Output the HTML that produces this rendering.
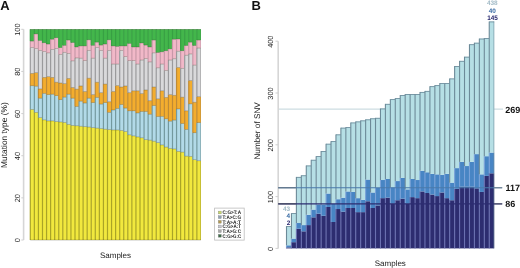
<!DOCTYPE html>
<html><head><meta charset="utf-8"><title>Mutation spectra</title>
<style>html,body{margin:0;padding:0;background:#fff;}svg{display:block;filter:blur(0.45px);}text{font-family:"Liberation Sans",sans-serif;text-rendering:geometricPrecision;}</style>
</head><body>
<svg width="520" height="268" viewBox="0 0 520 268">
<rect x="0" y="0" width="520" height="268" fill="#ffffff"/>
<text x="0.3" y="10.4" font-size="13" font-weight="bold" fill="#111">A</text>
<text x="251.6" y="10.3" font-size="13" font-weight="bold" fill="#111">B</text>
<g>
<rect x="30.3" y="109.37" width="4.06" height="130.63" fill="#f1e83e"/>
<rect x="29.7" y="109.37" width="1.2" height="130.63" fill="#aaa426"/>
<rect x="30.3" y="85.77" width="4.06" height="23.6" fill="#b2dae8"/>
<rect x="29.7" y="85.77" width="1.2" height="23.6" fill="#73999f"/>
<rect x="30.3" y="73.34" width="4.06" height="12.43" fill="#f3ad2e"/>
<rect x="29.7" y="73.34" width="1.2" height="12.43" fill="#bf8a35"/>
<rect x="30.3" y="47.42" width="4.06" height="25.92" fill="#d9d9db"/>
<rect x="29.7" y="47.42" width="1.2" height="25.92" fill="#9a9a9c"/>
<rect x="30.3" y="41.1" width="4.06" height="6.32" fill="#f1b8c8"/>
<rect x="29.7" y="41.1" width="1.2" height="6.32" fill="#c898a8"/>
<rect x="30.3" y="29.3" width="4.06" height="11.8" fill="#43b64b"/>
<rect x="29.7" y="29.3" width="1.2" height="11.8" fill="#37a043"/>
<rect x="30.3" y="109.07" width="4.06" height="0.6" fill="rgba(50,50,30,0.45)"/>
<rect x="30.3" y="85.47" width="4.06" height="0.6" fill="rgba(50,50,30,0.45)"/>
<rect x="30.3" y="73.04" width="4.06" height="0.6" fill="rgba(50,50,30,0.45)"/>
<rect x="30.3" y="47.12" width="4.06" height="0.6" fill="rgba(50,50,30,0.45)"/>
<rect x="30.3" y="40.8" width="4.06" height="0.6" fill="rgba(50,50,30,0.45)"/>
<rect x="30.3" y="29" width="4.06" height="0.6" fill="rgba(50,50,30,0.45)"/>
<rect x="34.36" y="112.32" width="4.06" height="127.68" fill="#f1e83e"/>
<rect x="33.76" y="112.32" width="1.2" height="127.68" fill="#aaa426"/>
<rect x="34.36" y="86.19" width="4.06" height="26.13" fill="#b2dae8"/>
<rect x="33.76" y="86.19" width="1.2" height="26.13" fill="#73999f"/>
<rect x="34.36" y="72.7" width="4.06" height="13.48" fill="#f3ad2e"/>
<rect x="33.76" y="72.7" width="1.2" height="13.48" fill="#bf8a35"/>
<rect x="34.36" y="48.47" width="4.06" height="24.23" fill="#d9d9db"/>
<rect x="33.76" y="48.47" width="1.2" height="24.23" fill="#9a9a9c"/>
<rect x="34.36" y="33.94" width="4.06" height="14.54" fill="#f1b8c8"/>
<rect x="33.76" y="33.94" width="1.2" height="14.54" fill="#c898a8"/>
<rect x="34.36" y="29.3" width="4.06" height="4.64" fill="#43b64b"/>
<rect x="33.76" y="29.3" width="1.2" height="4.64" fill="#37a043"/>
<rect x="34.36" y="112.02" width="4.06" height="0.6" fill="rgba(50,50,30,0.45)"/>
<rect x="34.36" y="85.89" width="4.06" height="0.6" fill="rgba(50,50,30,0.45)"/>
<rect x="34.36" y="72.4" width="4.06" height="0.6" fill="rgba(50,50,30,0.45)"/>
<rect x="34.36" y="48.17" width="4.06" height="0.6" fill="rgba(50,50,30,0.45)"/>
<rect x="34.36" y="33.64" width="4.06" height="0.6" fill="rgba(50,50,30,0.45)"/>
<rect x="34.36" y="29" width="4.06" height="0.6" fill="rgba(50,50,30,0.45)"/>
<rect x="38.42" y="117.58" width="4.06" height="122.42" fill="#f1e83e"/>
<rect x="37.82" y="117.58" width="1.2" height="122.42" fill="#aaa426"/>
<rect x="38.42" y="98.2" width="4.06" height="19.38" fill="#b2dae8"/>
<rect x="37.82" y="98.2" width="1.2" height="19.38" fill="#73999f"/>
<rect x="38.42" y="88.93" width="4.06" height="9.27" fill="#f3ad2e"/>
<rect x="37.82" y="88.93" width="1.2" height="9.27" fill="#bf8a35"/>
<rect x="38.42" y="50.37" width="4.06" height="38.56" fill="#d9d9db"/>
<rect x="37.82" y="50.37" width="1.2" height="38.56" fill="#9a9a9c"/>
<rect x="38.42" y="40.47" width="4.06" height="9.9" fill="#f1b8c8"/>
<rect x="37.82" y="40.47" width="1.2" height="9.9" fill="#c898a8"/>
<rect x="38.42" y="29.3" width="4.06" height="11.17" fill="#43b64b"/>
<rect x="37.82" y="29.3" width="1.2" height="11.17" fill="#37a043"/>
<rect x="38.42" y="117.28" width="4.06" height="0.6" fill="rgba(50,50,30,0.45)"/>
<rect x="38.42" y="97.9" width="4.06" height="0.6" fill="rgba(50,50,30,0.45)"/>
<rect x="38.42" y="88.63" width="4.06" height="0.6" fill="rgba(50,50,30,0.45)"/>
<rect x="38.42" y="50.07" width="4.06" height="0.6" fill="rgba(50,50,30,0.45)"/>
<rect x="38.42" y="40.17" width="4.06" height="0.6" fill="rgba(50,50,30,0.45)"/>
<rect x="38.42" y="29" width="4.06" height="0.6" fill="rgba(50,50,30,0.45)"/>
<rect x="42.49" y="119.9" width="4.06" height="120.1" fill="#f1e83e"/>
<rect x="41.89" y="119.9" width="1.2" height="120.1" fill="#aaa426"/>
<rect x="42.49" y="93.35" width="4.06" height="26.55" fill="#b2dae8"/>
<rect x="41.89" y="93.35" width="1.2" height="26.55" fill="#73999f"/>
<rect x="42.49" y="77.34" width="4.06" height="16.01" fill="#f3ad2e"/>
<rect x="41.89" y="77.34" width="1.2" height="16.01" fill="#bf8a35"/>
<rect x="42.49" y="51.42" width="4.06" height="25.92" fill="#d9d9db"/>
<rect x="41.89" y="51.42" width="1.2" height="25.92" fill="#9a9a9c"/>
<rect x="42.49" y="42.78" width="4.06" height="8.64" fill="#f1b8c8"/>
<rect x="41.89" y="42.78" width="1.2" height="8.64" fill="#c898a8"/>
<rect x="42.49" y="29.3" width="4.06" height="13.48" fill="#43b64b"/>
<rect x="41.89" y="29.3" width="1.2" height="13.48" fill="#37a043"/>
<rect x="42.49" y="119.6" width="4.06" height="0.6" fill="rgba(50,50,30,0.45)"/>
<rect x="42.49" y="93.05" width="4.06" height="0.6" fill="rgba(50,50,30,0.45)"/>
<rect x="42.49" y="77.04" width="4.06" height="0.6" fill="rgba(50,50,30,0.45)"/>
<rect x="42.49" y="51.12" width="4.06" height="0.6" fill="rgba(50,50,30,0.45)"/>
<rect x="42.49" y="42.48" width="4.06" height="0.6" fill="rgba(50,50,30,0.45)"/>
<rect x="42.49" y="29" width="4.06" height="0.6" fill="rgba(50,50,30,0.45)"/>
<rect x="46.55" y="120.95" width="4.06" height="119.05" fill="#f1e83e"/>
<rect x="45.95" y="120.95" width="1.2" height="119.05" fill="#aaa426"/>
<rect x="46.55" y="94.62" width="4.06" height="26.34" fill="#b2dae8"/>
<rect x="45.95" y="94.62" width="1.2" height="26.34" fill="#73999f"/>
<rect x="46.55" y="76.71" width="4.06" height="17.91" fill="#f3ad2e"/>
<rect x="45.95" y="76.71" width="1.2" height="17.91" fill="#bf8a35"/>
<rect x="46.55" y="52.9" width="4.06" height="23.81" fill="#d9d9db"/>
<rect x="45.95" y="52.9" width="1.2" height="23.81" fill="#9a9a9c"/>
<rect x="46.55" y="44.05" width="4.06" height="8.85" fill="#f1b8c8"/>
<rect x="45.95" y="44.05" width="1.2" height="8.85" fill="#c898a8"/>
<rect x="46.55" y="29.3" width="4.06" height="14.75" fill="#43b64b"/>
<rect x="45.95" y="29.3" width="1.2" height="14.75" fill="#37a043"/>
<rect x="46.55" y="120.65" width="4.06" height="0.6" fill="rgba(50,50,30,0.45)"/>
<rect x="46.55" y="94.32" width="4.06" height="0.6" fill="rgba(50,50,30,0.45)"/>
<rect x="46.55" y="76.41" width="4.06" height="0.6" fill="rgba(50,50,30,0.45)"/>
<rect x="46.55" y="52.6" width="4.06" height="0.6" fill="rgba(50,50,30,0.45)"/>
<rect x="46.55" y="43.75" width="4.06" height="0.6" fill="rgba(50,50,30,0.45)"/>
<rect x="46.55" y="29" width="4.06" height="0.6" fill="rgba(50,50,30,0.45)"/>
<rect x="50.61" y="120.95" width="4.06" height="119.05" fill="#f1e83e"/>
<rect x="50.01" y="120.95" width="1.2" height="119.05" fill="#aaa426"/>
<rect x="50.61" y="94.2" width="4.06" height="26.76" fill="#b2dae8"/>
<rect x="50.01" y="94.2" width="1.2" height="26.76" fill="#73999f"/>
<rect x="50.61" y="77.34" width="4.06" height="16.86" fill="#f3ad2e"/>
<rect x="50.01" y="77.34" width="1.2" height="16.86" fill="#bf8a35"/>
<rect x="50.61" y="49.32" width="4.06" height="28.02" fill="#d9d9db"/>
<rect x="50.01" y="49.32" width="1.2" height="28.02" fill="#9a9a9c"/>
<rect x="50.61" y="39.2" width="4.06" height="10.11" fill="#f1b8c8"/>
<rect x="50.01" y="39.2" width="1.2" height="10.11" fill="#c898a8"/>
<rect x="50.61" y="29.3" width="4.06" height="9.9" fill="#43b64b"/>
<rect x="50.01" y="29.3" width="1.2" height="9.9" fill="#37a043"/>
<rect x="50.61" y="120.65" width="4.06" height="0.6" fill="rgba(50,50,30,0.45)"/>
<rect x="50.61" y="93.9" width="4.06" height="0.6" fill="rgba(50,50,30,0.45)"/>
<rect x="50.61" y="77.04" width="4.06" height="0.6" fill="rgba(50,50,30,0.45)"/>
<rect x="50.61" y="49.02" width="4.06" height="0.6" fill="rgba(50,50,30,0.45)"/>
<rect x="50.61" y="38.9" width="4.06" height="0.6" fill="rgba(50,50,30,0.45)"/>
<rect x="50.61" y="29" width="4.06" height="0.6" fill="rgba(50,50,30,0.45)"/>
<rect x="54.67" y="121.59" width="4.06" height="118.41" fill="#f1e83e"/>
<rect x="54.07" y="121.59" width="1.2" height="118.41" fill="#aaa426"/>
<rect x="54.67" y="95.67" width="4.06" height="25.92" fill="#b2dae8"/>
<rect x="54.07" y="95.67" width="1.2" height="25.92" fill="#73999f"/>
<rect x="54.67" y="82.19" width="4.06" height="13.48" fill="#f3ad2e"/>
<rect x="54.07" y="82.19" width="1.2" height="13.48" fill="#bf8a35"/>
<rect x="54.67" y="48.47" width="4.06" height="33.71" fill="#d9d9db"/>
<rect x="54.07" y="48.47" width="1.2" height="33.71" fill="#9a9a9c"/>
<rect x="54.67" y="37.73" width="4.06" height="10.75" fill="#f1b8c8"/>
<rect x="54.07" y="37.73" width="1.2" height="10.75" fill="#c898a8"/>
<rect x="54.67" y="29.3" width="4.06" height="8.43" fill="#43b64b"/>
<rect x="54.07" y="29.3" width="1.2" height="8.43" fill="#37a043"/>
<rect x="54.67" y="121.29" width="4.06" height="0.6" fill="rgba(50,50,30,0.45)"/>
<rect x="54.67" y="95.37" width="4.06" height="0.6" fill="rgba(50,50,30,0.45)"/>
<rect x="54.67" y="81.89" width="4.06" height="0.6" fill="rgba(50,50,30,0.45)"/>
<rect x="54.67" y="48.17" width="4.06" height="0.6" fill="rgba(50,50,30,0.45)"/>
<rect x="54.67" y="37.43" width="4.06" height="0.6" fill="rgba(50,50,30,0.45)"/>
<rect x="54.67" y="29" width="4.06" height="0.6" fill="rgba(50,50,30,0.45)"/>
<rect x="58.74" y="122.01" width="4.06" height="117.99" fill="#f1e83e"/>
<rect x="58.14" y="122.01" width="1.2" height="117.99" fill="#aaa426"/>
<rect x="58.74" y="99.67" width="4.06" height="22.33" fill="#b2dae8"/>
<rect x="58.14" y="99.67" width="1.2" height="22.33" fill="#73999f"/>
<rect x="58.74" y="83.03" width="4.06" height="16.65" fill="#f3ad2e"/>
<rect x="58.14" y="83.03" width="1.2" height="16.65" fill="#bf8a35"/>
<rect x="58.74" y="54.37" width="4.06" height="28.66" fill="#d9d9db"/>
<rect x="58.14" y="54.37" width="1.2" height="28.66" fill="#9a9a9c"/>
<rect x="58.74" y="47.63" width="4.06" height="6.74" fill="#f1b8c8"/>
<rect x="58.14" y="47.63" width="1.2" height="6.74" fill="#c898a8"/>
<rect x="58.74" y="29.3" width="4.06" height="18.33" fill="#43b64b"/>
<rect x="58.14" y="29.3" width="1.2" height="18.33" fill="#37a043"/>
<rect x="58.74" y="121.71" width="4.06" height="0.6" fill="rgba(50,50,30,0.45)"/>
<rect x="58.74" y="99.37" width="4.06" height="0.6" fill="rgba(50,50,30,0.45)"/>
<rect x="58.74" y="82.73" width="4.06" height="0.6" fill="rgba(50,50,30,0.45)"/>
<rect x="58.74" y="54.07" width="4.06" height="0.6" fill="rgba(50,50,30,0.45)"/>
<rect x="58.74" y="47.33" width="4.06" height="0.6" fill="rgba(50,50,30,0.45)"/>
<rect x="58.74" y="29" width="4.06" height="0.6" fill="rgba(50,50,30,0.45)"/>
<rect x="62.8" y="122.43" width="4.06" height="117.57" fill="#f1e83e"/>
<rect x="62.2" y="122.43" width="1.2" height="117.57" fill="#aaa426"/>
<rect x="62.8" y="97.15" width="4.06" height="25.28" fill="#b2dae8"/>
<rect x="62.2" y="97.15" width="1.2" height="25.28" fill="#73999f"/>
<rect x="62.8" y="83.66" width="4.06" height="13.48" fill="#f3ad2e"/>
<rect x="62.2" y="83.66" width="1.2" height="13.48" fill="#bf8a35"/>
<rect x="62.8" y="52.27" width="4.06" height="31.39" fill="#d9d9db"/>
<rect x="62.2" y="52.27" width="1.2" height="31.39" fill="#9a9a9c"/>
<rect x="62.8" y="45.31" width="4.06" height="6.95" fill="#f1b8c8"/>
<rect x="62.2" y="45.31" width="1.2" height="6.95" fill="#c898a8"/>
<rect x="62.8" y="29.3" width="4.06" height="16.01" fill="#43b64b"/>
<rect x="62.2" y="29.3" width="1.2" height="16.01" fill="#37a043"/>
<rect x="62.8" y="122.13" width="4.06" height="0.6" fill="rgba(50,50,30,0.45)"/>
<rect x="62.8" y="96.85" width="4.06" height="0.6" fill="rgba(50,50,30,0.45)"/>
<rect x="62.8" y="83.36" width="4.06" height="0.6" fill="rgba(50,50,30,0.45)"/>
<rect x="62.8" y="51.97" width="4.06" height="0.6" fill="rgba(50,50,30,0.45)"/>
<rect x="62.8" y="45.01" width="4.06" height="0.6" fill="rgba(50,50,30,0.45)"/>
<rect x="62.8" y="29" width="4.06" height="0.6" fill="rgba(50,50,30,0.45)"/>
<rect x="66.86" y="124.33" width="4.06" height="115.67" fill="#f1e83e"/>
<rect x="66.26" y="124.33" width="1.2" height="115.67" fill="#aaa426"/>
<rect x="66.86" y="94.2" width="4.06" height="30.13" fill="#b2dae8"/>
<rect x="66.26" y="94.2" width="1.2" height="30.13" fill="#73999f"/>
<rect x="66.86" y="78.39" width="4.06" height="15.8" fill="#f3ad2e"/>
<rect x="66.26" y="78.39" width="1.2" height="15.8" fill="#bf8a35"/>
<rect x="66.86" y="53.32" width="4.06" height="25.07" fill="#d9d9db"/>
<rect x="66.26" y="53.32" width="1.2" height="25.07" fill="#9a9a9c"/>
<rect x="66.86" y="40.05" width="4.06" height="13.27" fill="#f1b8c8"/>
<rect x="66.26" y="40.05" width="1.2" height="13.27" fill="#c898a8"/>
<rect x="66.86" y="29.3" width="4.06" height="10.75" fill="#43b64b"/>
<rect x="66.26" y="29.3" width="1.2" height="10.75" fill="#37a043"/>
<rect x="66.86" y="124.03" width="4.06" height="0.6" fill="rgba(50,50,30,0.45)"/>
<rect x="66.86" y="93.9" width="4.06" height="0.6" fill="rgba(50,50,30,0.45)"/>
<rect x="66.86" y="78.09" width="4.06" height="0.6" fill="rgba(50,50,30,0.45)"/>
<rect x="66.86" y="53.02" width="4.06" height="0.6" fill="rgba(50,50,30,0.45)"/>
<rect x="66.86" y="39.75" width="4.06" height="0.6" fill="rgba(50,50,30,0.45)"/>
<rect x="66.86" y="29" width="4.06" height="0.6" fill="rgba(50,50,30,0.45)"/>
<rect x="70.92" y="125.38" width="4.06" height="114.62" fill="#f1e83e"/>
<rect x="70.33" y="125.38" width="1.2" height="114.62" fill="#aaa426"/>
<rect x="70.92" y="98.2" width="4.06" height="27.18" fill="#b2dae8"/>
<rect x="70.33" y="98.2" width="1.2" height="27.18" fill="#73999f"/>
<rect x="70.92" y="87.45" width="4.06" height="10.75" fill="#f3ad2e"/>
<rect x="70.33" y="87.45" width="1.2" height="10.75" fill="#bf8a35"/>
<rect x="70.92" y="60.91" width="4.06" height="26.55" fill="#d9d9db"/>
<rect x="70.33" y="60.91" width="1.2" height="26.55" fill="#9a9a9c"/>
<rect x="70.92" y="42.57" width="4.06" height="18.33" fill="#f1b8c8"/>
<rect x="70.33" y="42.57" width="1.2" height="18.33" fill="#c898a8"/>
<rect x="70.92" y="29.3" width="4.06" height="13.27" fill="#43b64b"/>
<rect x="70.33" y="29.3" width="1.2" height="13.27" fill="#37a043"/>
<rect x="70.92" y="125.08" width="4.06" height="0.6" fill="rgba(50,50,30,0.45)"/>
<rect x="70.92" y="97.9" width="4.06" height="0.6" fill="rgba(50,50,30,0.45)"/>
<rect x="70.92" y="87.15" width="4.06" height="0.6" fill="rgba(50,50,30,0.45)"/>
<rect x="70.92" y="60.61" width="4.06" height="0.6" fill="rgba(50,50,30,0.45)"/>
<rect x="70.92" y="42.27" width="4.06" height="0.6" fill="rgba(50,50,30,0.45)"/>
<rect x="70.92" y="29" width="4.06" height="0.6" fill="rgba(50,50,30,0.45)"/>
<rect x="74.99" y="125.8" width="4.06" height="114.2" fill="#f1e83e"/>
<rect x="74.39" y="125.8" width="1.2" height="114.2" fill="#aaa426"/>
<rect x="74.99" y="106.42" width="4.06" height="19.38" fill="#b2dae8"/>
<rect x="74.39" y="106.42" width="1.2" height="19.38" fill="#73999f"/>
<rect x="74.99" y="89.14" width="4.06" height="17.28" fill="#f3ad2e"/>
<rect x="74.39" y="89.14" width="1.2" height="17.28" fill="#bf8a35"/>
<rect x="74.99" y="57.96" width="4.06" height="31.18" fill="#d9d9db"/>
<rect x="74.39" y="57.96" width="1.2" height="31.18" fill="#9a9a9c"/>
<rect x="74.99" y="47" width="4.06" height="10.96" fill="#f1b8c8"/>
<rect x="74.39" y="47" width="1.2" height="10.96" fill="#c898a8"/>
<rect x="74.99" y="29.3" width="4.06" height="17.7" fill="#43b64b"/>
<rect x="74.39" y="29.3" width="1.2" height="17.7" fill="#37a043"/>
<rect x="74.99" y="125.5" width="4.06" height="0.6" fill="rgba(50,50,30,0.45)"/>
<rect x="74.99" y="106.12" width="4.06" height="0.6" fill="rgba(50,50,30,0.45)"/>
<rect x="74.99" y="88.84" width="4.06" height="0.6" fill="rgba(50,50,30,0.45)"/>
<rect x="74.99" y="57.66" width="4.06" height="0.6" fill="rgba(50,50,30,0.45)"/>
<rect x="74.99" y="46.7" width="4.06" height="0.6" fill="rgba(50,50,30,0.45)"/>
<rect x="74.99" y="29" width="4.06" height="0.6" fill="rgba(50,50,30,0.45)"/>
<rect x="79.05" y="126.22" width="4.06" height="113.78" fill="#f1e83e"/>
<rect x="78.45" y="126.22" width="1.2" height="113.78" fill="#aaa426"/>
<rect x="79.05" y="101.15" width="4.06" height="25.07" fill="#b2dae8"/>
<rect x="78.45" y="101.15" width="1.2" height="25.07" fill="#73999f"/>
<rect x="79.05" y="85.98" width="4.06" height="15.17" fill="#f3ad2e"/>
<rect x="78.45" y="85.98" width="1.2" height="15.17" fill="#bf8a35"/>
<rect x="79.05" y="58.17" width="4.06" height="27.81" fill="#d9d9db"/>
<rect x="78.45" y="58.17" width="1.2" height="27.81" fill="#9a9a9c"/>
<rect x="79.05" y="45.95" width="4.06" height="12.22" fill="#f1b8c8"/>
<rect x="78.45" y="45.95" width="1.2" height="12.22" fill="#c898a8"/>
<rect x="79.05" y="29.3" width="4.06" height="16.65" fill="#43b64b"/>
<rect x="78.45" y="29.3" width="1.2" height="16.65" fill="#37a043"/>
<rect x="79.05" y="125.92" width="4.06" height="0.6" fill="rgba(50,50,30,0.45)"/>
<rect x="79.05" y="100.85" width="4.06" height="0.6" fill="rgba(50,50,30,0.45)"/>
<rect x="79.05" y="85.68" width="4.06" height="0.6" fill="rgba(50,50,30,0.45)"/>
<rect x="79.05" y="57.87" width="4.06" height="0.6" fill="rgba(50,50,30,0.45)"/>
<rect x="79.05" y="45.65" width="4.06" height="0.6" fill="rgba(50,50,30,0.45)"/>
<rect x="79.05" y="29" width="4.06" height="0.6" fill="rgba(50,50,30,0.45)"/>
<rect x="83.11" y="126.64" width="4.06" height="113.36" fill="#f1e83e"/>
<rect x="82.51" y="126.64" width="1.2" height="113.36" fill="#aaa426"/>
<rect x="83.11" y="103.04" width="4.06" height="23.6" fill="#b2dae8"/>
<rect x="82.51" y="103.04" width="1.2" height="23.6" fill="#73999f"/>
<rect x="83.11" y="91.46" width="4.06" height="11.59" fill="#f3ad2e"/>
<rect x="82.51" y="91.46" width="1.2" height="11.59" fill="#bf8a35"/>
<rect x="83.11" y="60.69" width="4.06" height="30.76" fill="#d9d9db"/>
<rect x="82.51" y="60.69" width="1.2" height="30.76" fill="#9a9a9c"/>
<rect x="83.11" y="45.95" width="4.06" height="14.75" fill="#f1b8c8"/>
<rect x="82.51" y="45.95" width="1.2" height="14.75" fill="#c898a8"/>
<rect x="83.11" y="29.3" width="4.06" height="16.65" fill="#43b64b"/>
<rect x="82.51" y="29.3" width="1.2" height="16.65" fill="#37a043"/>
<rect x="83.11" y="126.34" width="4.06" height="0.6" fill="rgba(50,50,30,0.45)"/>
<rect x="83.11" y="102.74" width="4.06" height="0.6" fill="rgba(50,50,30,0.45)"/>
<rect x="83.11" y="91.16" width="4.06" height="0.6" fill="rgba(50,50,30,0.45)"/>
<rect x="83.11" y="60.39" width="4.06" height="0.6" fill="rgba(50,50,30,0.45)"/>
<rect x="83.11" y="45.65" width="4.06" height="0.6" fill="rgba(50,50,30,0.45)"/>
<rect x="83.11" y="29" width="4.06" height="0.6" fill="rgba(50,50,30,0.45)"/>
<rect x="87.17" y="127.06" width="4.06" height="112.94" fill="#f1e83e"/>
<rect x="86.58" y="127.06" width="1.2" height="112.94" fill="#aaa426"/>
<rect x="87.17" y="98.2" width="4.06" height="28.87" fill="#b2dae8"/>
<rect x="86.58" y="98.2" width="1.2" height="28.87" fill="#73999f"/>
<rect x="87.17" y="78.18" width="4.06" height="20.02" fill="#f3ad2e"/>
<rect x="86.58" y="78.18" width="1.2" height="20.02" fill="#bf8a35"/>
<rect x="87.17" y="50.37" width="4.06" height="27.81" fill="#d9d9db"/>
<rect x="86.58" y="50.37" width="1.2" height="27.81" fill="#9a9a9c"/>
<rect x="87.17" y="39.84" width="4.06" height="10.53" fill="#f1b8c8"/>
<rect x="86.58" y="39.84" width="1.2" height="10.53" fill="#c898a8"/>
<rect x="87.17" y="29.3" width="4.06" height="10.53" fill="#43b64b"/>
<rect x="86.58" y="29.3" width="1.2" height="10.53" fill="#37a043"/>
<rect x="87.17" y="126.76" width="4.06" height="0.6" fill="rgba(50,50,30,0.45)"/>
<rect x="87.17" y="97.9" width="4.06" height="0.6" fill="rgba(50,50,30,0.45)"/>
<rect x="87.17" y="77.88" width="4.06" height="0.6" fill="rgba(50,50,30,0.45)"/>
<rect x="87.17" y="50.07" width="4.06" height="0.6" fill="rgba(50,50,30,0.45)"/>
<rect x="87.17" y="39.54" width="4.06" height="0.6" fill="rgba(50,50,30,0.45)"/>
<rect x="87.17" y="29" width="4.06" height="0.6" fill="rgba(50,50,30,0.45)"/>
<rect x="91.24" y="127.7" width="4.06" height="112.3" fill="#f1e83e"/>
<rect x="90.64" y="127.7" width="1.2" height="112.3" fill="#aaa426"/>
<rect x="91.24" y="102.62" width="4.06" height="25.07" fill="#b2dae8"/>
<rect x="90.64" y="102.62" width="1.2" height="25.07" fill="#73999f"/>
<rect x="91.24" y="94.62" width="4.06" height="8.01" fill="#f3ad2e"/>
<rect x="90.64" y="94.62" width="1.2" height="8.01" fill="#bf8a35"/>
<rect x="91.24" y="58.17" width="4.06" height="36.45" fill="#d9d9db"/>
<rect x="90.64" y="58.17" width="1.2" height="36.45" fill="#9a9a9c"/>
<rect x="91.24" y="45.31" width="4.06" height="12.85" fill="#f1b8c8"/>
<rect x="90.64" y="45.31" width="1.2" height="12.85" fill="#c898a8"/>
<rect x="91.24" y="29.3" width="4.06" height="16.01" fill="#43b64b"/>
<rect x="90.64" y="29.3" width="1.2" height="16.01" fill="#37a043"/>
<rect x="91.24" y="127.4" width="4.06" height="0.6" fill="rgba(50,50,30,0.45)"/>
<rect x="91.24" y="102.32" width="4.06" height="0.6" fill="rgba(50,50,30,0.45)"/>
<rect x="91.24" y="94.32" width="4.06" height="0.6" fill="rgba(50,50,30,0.45)"/>
<rect x="91.24" y="57.87" width="4.06" height="0.6" fill="rgba(50,50,30,0.45)"/>
<rect x="91.24" y="45.01" width="4.06" height="0.6" fill="rgba(50,50,30,0.45)"/>
<rect x="91.24" y="29" width="4.06" height="0.6" fill="rgba(50,50,30,0.45)"/>
<rect x="95.3" y="128.12" width="4.06" height="111.88" fill="#f1e83e"/>
<rect x="94.7" y="128.12" width="1.2" height="111.88" fill="#aaa426"/>
<rect x="95.3" y="97.36" width="4.06" height="30.76" fill="#b2dae8"/>
<rect x="94.7" y="97.36" width="1.2" height="30.76" fill="#73999f"/>
<rect x="95.3" y="82.19" width="4.06" height="15.17" fill="#f3ad2e"/>
<rect x="94.7" y="82.19" width="1.2" height="15.17" fill="#bf8a35"/>
<rect x="95.3" y="47.42" width="4.06" height="34.77" fill="#d9d9db"/>
<rect x="94.7" y="47.42" width="1.2" height="34.77" fill="#9a9a9c"/>
<rect x="95.3" y="42.15" width="4.06" height="5.27" fill="#f1b8c8"/>
<rect x="94.7" y="42.15" width="1.2" height="5.27" fill="#c898a8"/>
<rect x="95.3" y="29.3" width="4.06" height="12.85" fill="#43b64b"/>
<rect x="94.7" y="29.3" width="1.2" height="12.85" fill="#37a043"/>
<rect x="95.3" y="127.82" width="4.06" height="0.6" fill="rgba(50,50,30,0.45)"/>
<rect x="95.3" y="97.06" width="4.06" height="0.6" fill="rgba(50,50,30,0.45)"/>
<rect x="95.3" y="81.89" width="4.06" height="0.6" fill="rgba(50,50,30,0.45)"/>
<rect x="95.3" y="47.12" width="4.06" height="0.6" fill="rgba(50,50,30,0.45)"/>
<rect x="95.3" y="41.85" width="4.06" height="0.6" fill="rgba(50,50,30,0.45)"/>
<rect x="95.3" y="29" width="4.06" height="0.6" fill="rgba(50,50,30,0.45)"/>
<rect x="99.36" y="128.54" width="4.06" height="111.46" fill="#f1e83e"/>
<rect x="98.76" y="128.54" width="1.2" height="111.46" fill="#aaa426"/>
<rect x="99.36" y="104.1" width="4.06" height="24.44" fill="#b2dae8"/>
<rect x="98.76" y="104.1" width="1.2" height="24.44" fill="#73999f"/>
<rect x="99.36" y="92.72" width="4.06" height="11.38" fill="#f3ad2e"/>
<rect x="98.76" y="92.72" width="1.2" height="11.38" fill="#bf8a35"/>
<rect x="99.36" y="50.37" width="4.06" height="42.35" fill="#d9d9db"/>
<rect x="98.76" y="50.37" width="1.2" height="42.35" fill="#9a9a9c"/>
<rect x="99.36" y="45.1" width="4.06" height="5.27" fill="#f1b8c8"/>
<rect x="98.76" y="45.1" width="1.2" height="5.27" fill="#c898a8"/>
<rect x="99.36" y="29.3" width="4.06" height="15.8" fill="#43b64b"/>
<rect x="98.76" y="29.3" width="1.2" height="15.8" fill="#37a043"/>
<rect x="99.36" y="128.24" width="4.06" height="0.6" fill="rgba(50,50,30,0.45)"/>
<rect x="99.36" y="103.8" width="4.06" height="0.6" fill="rgba(50,50,30,0.45)"/>
<rect x="99.36" y="92.42" width="4.06" height="0.6" fill="rgba(50,50,30,0.45)"/>
<rect x="99.36" y="50.07" width="4.06" height="0.6" fill="rgba(50,50,30,0.45)"/>
<rect x="99.36" y="44.8" width="4.06" height="0.6" fill="rgba(50,50,30,0.45)"/>
<rect x="99.36" y="29" width="4.06" height="0.6" fill="rgba(50,50,30,0.45)"/>
<rect x="103.42" y="129.17" width="4.06" height="110.83" fill="#f1e83e"/>
<rect x="102.83" y="129.17" width="1.2" height="110.83" fill="#aaa426"/>
<rect x="103.42" y="102.62" width="4.06" height="26.55" fill="#b2dae8"/>
<rect x="102.83" y="102.62" width="1.2" height="26.55" fill="#73999f"/>
<rect x="103.42" y="84.08" width="4.06" height="18.54" fill="#f3ad2e"/>
<rect x="102.83" y="84.08" width="1.2" height="18.54" fill="#bf8a35"/>
<rect x="103.42" y="58.17" width="4.06" height="25.92" fill="#d9d9db"/>
<rect x="102.83" y="58.17" width="1.2" height="25.92" fill="#9a9a9c"/>
<rect x="103.42" y="44.05" width="4.06" height="14.12" fill="#f1b8c8"/>
<rect x="102.83" y="44.05" width="1.2" height="14.12" fill="#c898a8"/>
<rect x="103.42" y="29.3" width="4.06" height="14.75" fill="#43b64b"/>
<rect x="102.83" y="29.3" width="1.2" height="14.75" fill="#37a043"/>
<rect x="103.42" y="128.87" width="4.06" height="0.6" fill="rgba(50,50,30,0.45)"/>
<rect x="103.42" y="102.32" width="4.06" height="0.6" fill="rgba(50,50,30,0.45)"/>
<rect x="103.42" y="83.78" width="4.06" height="0.6" fill="rgba(50,50,30,0.45)"/>
<rect x="103.42" y="57.87" width="4.06" height="0.6" fill="rgba(50,50,30,0.45)"/>
<rect x="103.42" y="43.75" width="4.06" height="0.6" fill="rgba(50,50,30,0.45)"/>
<rect x="103.42" y="29" width="4.06" height="0.6" fill="rgba(50,50,30,0.45)"/>
<rect x="107.49" y="129.59" width="4.06" height="110.41" fill="#f1e83e"/>
<rect x="106.89" y="129.59" width="1.2" height="110.41" fill="#aaa426"/>
<rect x="107.49" y="112.32" width="4.06" height="17.28" fill="#b2dae8"/>
<rect x="106.89" y="112.32" width="1.2" height="17.28" fill="#73999f"/>
<rect x="107.49" y="101.78" width="4.06" height="10.53" fill="#f3ad2e"/>
<rect x="106.89" y="101.78" width="1.2" height="10.53" fill="#bf8a35"/>
<rect x="107.49" y="50.37" width="4.06" height="51.41" fill="#d9d9db"/>
<rect x="106.89" y="50.37" width="1.2" height="51.41" fill="#9a9a9c"/>
<rect x="107.49" y="39.84" width="4.06" height="10.53" fill="#f1b8c8"/>
<rect x="106.89" y="39.84" width="1.2" height="10.53" fill="#c898a8"/>
<rect x="107.49" y="29.3" width="4.06" height="10.53" fill="#43b64b"/>
<rect x="106.89" y="29.3" width="1.2" height="10.53" fill="#37a043"/>
<rect x="107.49" y="129.29" width="4.06" height="0.6" fill="rgba(50,50,30,0.45)"/>
<rect x="107.49" y="112.02" width="4.06" height="0.6" fill="rgba(50,50,30,0.45)"/>
<rect x="107.49" y="101.48" width="4.06" height="0.6" fill="rgba(50,50,30,0.45)"/>
<rect x="107.49" y="50.07" width="4.06" height="0.6" fill="rgba(50,50,30,0.45)"/>
<rect x="107.49" y="39.54" width="4.06" height="0.6" fill="rgba(50,50,30,0.45)"/>
<rect x="107.49" y="29" width="4.06" height="0.6" fill="rgba(50,50,30,0.45)"/>
<rect x="111.55" y="130.01" width="4.06" height="109.99" fill="#f1e83e"/>
<rect x="110.95" y="130.01" width="1.2" height="109.99" fill="#aaa426"/>
<rect x="111.55" y="110" width="4.06" height="20.02" fill="#b2dae8"/>
<rect x="110.95" y="110" width="1.2" height="20.02" fill="#73999f"/>
<rect x="111.55" y="91.46" width="4.06" height="18.54" fill="#f3ad2e"/>
<rect x="110.95" y="91.46" width="1.2" height="18.54" fill="#bf8a35"/>
<rect x="111.55" y="64.07" width="4.06" height="27.39" fill="#d9d9db"/>
<rect x="110.95" y="64.07" width="1.2" height="27.39" fill="#9a9a9c"/>
<rect x="111.55" y="45.95" width="4.06" height="18.12" fill="#f1b8c8"/>
<rect x="110.95" y="45.95" width="1.2" height="18.12" fill="#c898a8"/>
<rect x="111.55" y="29.3" width="4.06" height="16.65" fill="#43b64b"/>
<rect x="110.95" y="29.3" width="1.2" height="16.65" fill="#37a043"/>
<rect x="111.55" y="129.71" width="4.06" height="0.6" fill="rgba(50,50,30,0.45)"/>
<rect x="111.55" y="109.7" width="4.06" height="0.6" fill="rgba(50,50,30,0.45)"/>
<rect x="111.55" y="91.16" width="4.06" height="0.6" fill="rgba(50,50,30,0.45)"/>
<rect x="111.55" y="63.77" width="4.06" height="0.6" fill="rgba(50,50,30,0.45)"/>
<rect x="111.55" y="45.65" width="4.06" height="0.6" fill="rgba(50,50,30,0.45)"/>
<rect x="111.55" y="29" width="4.06" height="0.6" fill="rgba(50,50,30,0.45)"/>
<rect x="115.61" y="130.01" width="4.06" height="109.99" fill="#f1e83e"/>
<rect x="115.01" y="130.01" width="1.2" height="109.99" fill="#aaa426"/>
<rect x="115.61" y="108.31" width="4.06" height="21.7" fill="#b2dae8"/>
<rect x="115.01" y="108.31" width="1.2" height="21.7" fill="#73999f"/>
<rect x="115.61" y="85.56" width="4.06" height="22.76" fill="#f3ad2e"/>
<rect x="115.01" y="85.56" width="1.2" height="22.76" fill="#bf8a35"/>
<rect x="115.61" y="64.07" width="4.06" height="21.49" fill="#d9d9db"/>
<rect x="115.01" y="64.07" width="1.2" height="21.49" fill="#9a9a9c"/>
<rect x="115.61" y="46.37" width="4.06" height="17.7" fill="#f1b8c8"/>
<rect x="115.01" y="46.37" width="1.2" height="17.7" fill="#c898a8"/>
<rect x="115.61" y="29.3" width="4.06" height="17.07" fill="#43b64b"/>
<rect x="115.01" y="29.3" width="1.2" height="17.07" fill="#37a043"/>
<rect x="115.61" y="129.71" width="4.06" height="0.6" fill="rgba(50,50,30,0.45)"/>
<rect x="115.61" y="108.01" width="4.06" height="0.6" fill="rgba(50,50,30,0.45)"/>
<rect x="115.61" y="85.26" width="4.06" height="0.6" fill="rgba(50,50,30,0.45)"/>
<rect x="115.61" y="63.77" width="4.06" height="0.6" fill="rgba(50,50,30,0.45)"/>
<rect x="115.61" y="46.07" width="4.06" height="0.6" fill="rgba(50,50,30,0.45)"/>
<rect x="115.61" y="29" width="4.06" height="0.6" fill="rgba(50,50,30,0.45)"/>
<rect x="119.67" y="130.44" width="4.06" height="109.56" fill="#f1e83e"/>
<rect x="119.08" y="130.44" width="1.2" height="109.56" fill="#aaa426"/>
<rect x="119.67" y="104.52" width="4.06" height="25.92" fill="#b2dae8"/>
<rect x="119.08" y="104.52" width="1.2" height="25.92" fill="#73999f"/>
<rect x="119.67" y="87.03" width="4.06" height="17.49" fill="#f3ad2e"/>
<rect x="119.08" y="87.03" width="1.2" height="17.49" fill="#bf8a35"/>
<rect x="119.67" y="50.37" width="4.06" height="36.66" fill="#d9d9db"/>
<rect x="119.08" y="50.37" width="1.2" height="36.66" fill="#9a9a9c"/>
<rect x="119.67" y="45.95" width="4.06" height="4.42" fill="#f1b8c8"/>
<rect x="119.08" y="45.95" width="1.2" height="4.42" fill="#c898a8"/>
<rect x="119.67" y="29.3" width="4.06" height="16.65" fill="#43b64b"/>
<rect x="119.08" y="29.3" width="1.2" height="16.65" fill="#37a043"/>
<rect x="119.67" y="130.14" width="4.06" height="0.6" fill="rgba(50,50,30,0.45)"/>
<rect x="119.67" y="104.22" width="4.06" height="0.6" fill="rgba(50,50,30,0.45)"/>
<rect x="119.67" y="86.73" width="4.06" height="0.6" fill="rgba(50,50,30,0.45)"/>
<rect x="119.67" y="50.07" width="4.06" height="0.6" fill="rgba(50,50,30,0.45)"/>
<rect x="119.67" y="45.65" width="4.06" height="0.6" fill="rgba(50,50,30,0.45)"/>
<rect x="119.67" y="29" width="4.06" height="0.6" fill="rgba(50,50,30,0.45)"/>
<rect x="123.74" y="131.49" width="4.06" height="108.51" fill="#f1e83e"/>
<rect x="123.14" y="131.49" width="1.2" height="108.51" fill="#aaa426"/>
<rect x="123.74" y="108.1" width="4.06" height="23.39" fill="#b2dae8"/>
<rect x="123.14" y="108.1" width="1.2" height="23.39" fill="#73999f"/>
<rect x="123.74" y="85.98" width="4.06" height="22.12" fill="#f3ad2e"/>
<rect x="123.14" y="85.98" width="1.2" height="22.12" fill="#bf8a35"/>
<rect x="123.74" y="56.69" width="4.06" height="29.29" fill="#d9d9db"/>
<rect x="123.14" y="56.69" width="1.2" height="29.29" fill="#9a9a9c"/>
<rect x="123.74" y="45.95" width="4.06" height="10.75" fill="#f1b8c8"/>
<rect x="123.14" y="45.95" width="1.2" height="10.75" fill="#c898a8"/>
<rect x="123.74" y="29.3" width="4.06" height="16.65" fill="#43b64b"/>
<rect x="123.14" y="29.3" width="1.2" height="16.65" fill="#37a043"/>
<rect x="123.74" y="131.19" width="4.06" height="0.6" fill="rgba(50,50,30,0.45)"/>
<rect x="123.74" y="107.8" width="4.06" height="0.6" fill="rgba(50,50,30,0.45)"/>
<rect x="123.74" y="85.68" width="4.06" height="0.6" fill="rgba(50,50,30,0.45)"/>
<rect x="123.74" y="56.39" width="4.06" height="0.6" fill="rgba(50,50,30,0.45)"/>
<rect x="123.74" y="45.65" width="4.06" height="0.6" fill="rgba(50,50,30,0.45)"/>
<rect x="123.74" y="29" width="4.06" height="0.6" fill="rgba(50,50,30,0.45)"/>
<rect x="127.8" y="134.86" width="4.06" height="105.14" fill="#f1e83e"/>
<rect x="127.2" y="134.86" width="1.2" height="105.14" fill="#aaa426"/>
<rect x="127.8" y="110.84" width="4.06" height="24.02" fill="#b2dae8"/>
<rect x="127.2" y="110.84" width="1.2" height="24.02" fill="#73999f"/>
<rect x="127.8" y="92.72" width="4.06" height="18.12" fill="#f3ad2e"/>
<rect x="127.2" y="92.72" width="1.2" height="18.12" fill="#bf8a35"/>
<rect x="127.8" y="60.69" width="4.06" height="32.03" fill="#d9d9db"/>
<rect x="127.2" y="60.69" width="1.2" height="32.03" fill="#9a9a9c"/>
<rect x="127.8" y="43.42" width="4.06" height="17.28" fill="#f1b8c8"/>
<rect x="127.2" y="43.42" width="1.2" height="17.28" fill="#c898a8"/>
<rect x="127.8" y="29.3" width="4.06" height="14.12" fill="#43b64b"/>
<rect x="127.2" y="29.3" width="1.2" height="14.12" fill="#37a043"/>
<rect x="127.8" y="134.56" width="4.06" height="0.6" fill="rgba(50,50,30,0.45)"/>
<rect x="127.8" y="110.54" width="4.06" height="0.6" fill="rgba(50,50,30,0.45)"/>
<rect x="127.8" y="92.42" width="4.06" height="0.6" fill="rgba(50,50,30,0.45)"/>
<rect x="127.8" y="60.39" width="4.06" height="0.6" fill="rgba(50,50,30,0.45)"/>
<rect x="127.8" y="43.12" width="4.06" height="0.6" fill="rgba(50,50,30,0.45)"/>
<rect x="127.8" y="29" width="4.06" height="0.6" fill="rgba(50,50,30,0.45)"/>
<rect x="131.86" y="135.91" width="4.06" height="104.09" fill="#f1e83e"/>
<rect x="131.26" y="135.91" width="1.2" height="104.09" fill="#aaa426"/>
<rect x="131.86" y="110.84" width="4.06" height="25.07" fill="#b2dae8"/>
<rect x="131.26" y="110.84" width="1.2" height="25.07" fill="#73999f"/>
<rect x="131.86" y="90.82" width="4.06" height="20.02" fill="#f3ad2e"/>
<rect x="131.26" y="90.82" width="1.2" height="20.02" fill="#bf8a35"/>
<rect x="131.86" y="60.69" width="4.06" height="30.13" fill="#d9d9db"/>
<rect x="131.26" y="60.69" width="1.2" height="30.13" fill="#9a9a9c"/>
<rect x="131.86" y="47" width="4.06" height="13.7" fill="#f1b8c8"/>
<rect x="131.26" y="47" width="1.2" height="13.7" fill="#c898a8"/>
<rect x="131.86" y="29.3" width="4.06" height="17.7" fill="#43b64b"/>
<rect x="131.26" y="29.3" width="1.2" height="17.7" fill="#37a043"/>
<rect x="131.86" y="135.61" width="4.06" height="0.6" fill="rgba(50,50,30,0.45)"/>
<rect x="131.86" y="110.54" width="4.06" height="0.6" fill="rgba(50,50,30,0.45)"/>
<rect x="131.86" y="90.52" width="4.06" height="0.6" fill="rgba(50,50,30,0.45)"/>
<rect x="131.86" y="60.39" width="4.06" height="0.6" fill="rgba(50,50,30,0.45)"/>
<rect x="131.86" y="46.7" width="4.06" height="0.6" fill="rgba(50,50,30,0.45)"/>
<rect x="131.86" y="29" width="4.06" height="0.6" fill="rgba(50,50,30,0.45)"/>
<rect x="135.93" y="136.97" width="4.06" height="103.03" fill="#f1e83e"/>
<rect x="135.33" y="136.97" width="1.2" height="103.03" fill="#aaa426"/>
<rect x="135.93" y="112.95" width="4.06" height="24.02" fill="#b2dae8"/>
<rect x="135.33" y="112.95" width="1.2" height="24.02" fill="#73999f"/>
<rect x="135.93" y="90.82" width="4.06" height="22.12" fill="#f3ad2e"/>
<rect x="135.33" y="90.82" width="1.2" height="22.12" fill="#bf8a35"/>
<rect x="135.93" y="64.07" width="4.06" height="26.76" fill="#d9d9db"/>
<rect x="135.33" y="64.07" width="1.2" height="26.76" fill="#9a9a9c"/>
<rect x="135.93" y="47" width="4.06" height="17.07" fill="#f1b8c8"/>
<rect x="135.33" y="47" width="1.2" height="17.07" fill="#c898a8"/>
<rect x="135.93" y="29.3" width="4.06" height="17.7" fill="#43b64b"/>
<rect x="135.33" y="29.3" width="1.2" height="17.7" fill="#37a043"/>
<rect x="135.93" y="136.67" width="4.06" height="0.6" fill="rgba(50,50,30,0.45)"/>
<rect x="135.93" y="112.65" width="4.06" height="0.6" fill="rgba(50,50,30,0.45)"/>
<rect x="135.93" y="90.52" width="4.06" height="0.6" fill="rgba(50,50,30,0.45)"/>
<rect x="135.93" y="63.77" width="4.06" height="0.6" fill="rgba(50,50,30,0.45)"/>
<rect x="135.93" y="46.7" width="4.06" height="0.6" fill="rgba(50,50,30,0.45)"/>
<rect x="135.93" y="29" width="4.06" height="0.6" fill="rgba(50,50,30,0.45)"/>
<rect x="139.99" y="137.81" width="4.06" height="102.19" fill="#f1e83e"/>
<rect x="139.39" y="137.81" width="1.2" height="102.19" fill="#aaa426"/>
<rect x="139.99" y="111.47" width="4.06" height="26.34" fill="#b2dae8"/>
<rect x="139.39" y="111.47" width="1.2" height="26.34" fill="#73999f"/>
<rect x="139.99" y="93.56" width="4.06" height="17.91" fill="#f3ad2e"/>
<rect x="139.39" y="93.56" width="1.2" height="17.91" fill="#bf8a35"/>
<rect x="139.99" y="60.06" width="4.06" height="33.5" fill="#d9d9db"/>
<rect x="139.39" y="60.06" width="1.2" height="33.5" fill="#9a9a9c"/>
<rect x="139.99" y="43" width="4.06" height="17.07" fill="#f1b8c8"/>
<rect x="139.39" y="43" width="1.2" height="17.07" fill="#c898a8"/>
<rect x="139.99" y="29.3" width="4.06" height="13.7" fill="#43b64b"/>
<rect x="139.39" y="29.3" width="1.2" height="13.7" fill="#37a043"/>
<rect x="139.99" y="137.51" width="4.06" height="0.6" fill="rgba(50,50,30,0.45)"/>
<rect x="139.99" y="111.17" width="4.06" height="0.6" fill="rgba(50,50,30,0.45)"/>
<rect x="139.99" y="93.26" width="4.06" height="0.6" fill="rgba(50,50,30,0.45)"/>
<rect x="139.99" y="59.76" width="4.06" height="0.6" fill="rgba(50,50,30,0.45)"/>
<rect x="139.99" y="42.7" width="4.06" height="0.6" fill="rgba(50,50,30,0.45)"/>
<rect x="139.99" y="29" width="4.06" height="0.6" fill="rgba(50,50,30,0.45)"/>
<rect x="144.05" y="139.71" width="4.06" height="100.29" fill="#f1e83e"/>
<rect x="143.45" y="139.71" width="1.2" height="100.29" fill="#aaa426"/>
<rect x="144.05" y="111.47" width="4.06" height="28.23" fill="#b2dae8"/>
<rect x="143.45" y="111.47" width="1.2" height="28.23" fill="#73999f"/>
<rect x="144.05" y="89.98" width="4.06" height="21.49" fill="#f3ad2e"/>
<rect x="143.45" y="89.98" width="1.2" height="21.49" fill="#bf8a35"/>
<rect x="144.05" y="58.59" width="4.06" height="31.39" fill="#d9d9db"/>
<rect x="143.45" y="58.59" width="1.2" height="31.39" fill="#9a9a9c"/>
<rect x="144.05" y="45.1" width="4.06" height="13.48" fill="#f1b8c8"/>
<rect x="143.45" y="45.1" width="1.2" height="13.48" fill="#c898a8"/>
<rect x="144.05" y="29.3" width="4.06" height="15.8" fill="#43b64b"/>
<rect x="143.45" y="29.3" width="1.2" height="15.8" fill="#37a043"/>
<rect x="144.05" y="139.41" width="4.06" height="0.6" fill="rgba(50,50,30,0.45)"/>
<rect x="144.05" y="111.17" width="4.06" height="0.6" fill="rgba(50,50,30,0.45)"/>
<rect x="144.05" y="89.68" width="4.06" height="0.6" fill="rgba(50,50,30,0.45)"/>
<rect x="144.05" y="58.29" width="4.06" height="0.6" fill="rgba(50,50,30,0.45)"/>
<rect x="144.05" y="44.8" width="4.06" height="0.6" fill="rgba(50,50,30,0.45)"/>
<rect x="144.05" y="29" width="4.06" height="0.6" fill="rgba(50,50,30,0.45)"/>
<rect x="148.11" y="140.13" width="4.06" height="99.87" fill="#f1e83e"/>
<rect x="147.51" y="140.13" width="1.2" height="99.87" fill="#aaa426"/>
<rect x="148.11" y="114.21" width="4.06" height="25.92" fill="#b2dae8"/>
<rect x="147.51" y="114.21" width="1.2" height="25.92" fill="#73999f"/>
<rect x="148.11" y="100.73" width="4.06" height="13.48" fill="#f3ad2e"/>
<rect x="147.51" y="100.73" width="1.2" height="13.48" fill="#bf8a35"/>
<rect x="148.11" y="61.96" width="4.06" height="38.77" fill="#d9d9db"/>
<rect x="147.51" y="61.96" width="1.2" height="38.77" fill="#9a9a9c"/>
<rect x="148.11" y="47" width="4.06" height="14.96" fill="#f1b8c8"/>
<rect x="147.51" y="47" width="1.2" height="14.96" fill="#c898a8"/>
<rect x="148.11" y="29.3" width="4.06" height="17.7" fill="#43b64b"/>
<rect x="147.51" y="29.3" width="1.2" height="17.7" fill="#37a043"/>
<rect x="148.11" y="139.83" width="4.06" height="0.6" fill="rgba(50,50,30,0.45)"/>
<rect x="148.11" y="113.91" width="4.06" height="0.6" fill="rgba(50,50,30,0.45)"/>
<rect x="148.11" y="100.43" width="4.06" height="0.6" fill="rgba(50,50,30,0.45)"/>
<rect x="148.11" y="61.66" width="4.06" height="0.6" fill="rgba(50,50,30,0.45)"/>
<rect x="148.11" y="46.7" width="4.06" height="0.6" fill="rgba(50,50,30,0.45)"/>
<rect x="148.11" y="29" width="4.06" height="0.6" fill="rgba(50,50,30,0.45)"/>
<rect x="152.18" y="141.18" width="4.06" height="98.82" fill="#f1e83e"/>
<rect x="151.58" y="141.18" width="1.2" height="98.82" fill="#aaa426"/>
<rect x="152.18" y="105.57" width="4.06" height="35.61" fill="#b2dae8"/>
<rect x="151.58" y="105.57" width="1.2" height="35.61" fill="#73999f"/>
<rect x="152.18" y="87.03" width="4.06" height="18.54" fill="#f3ad2e"/>
<rect x="151.58" y="87.03" width="1.2" height="18.54" fill="#bf8a35"/>
<rect x="152.18" y="52.9" width="4.06" height="34.13" fill="#d9d9db"/>
<rect x="151.58" y="52.9" width="1.2" height="34.13" fill="#9a9a9c"/>
<rect x="152.18" y="40.05" width="4.06" height="12.85" fill="#f1b8c8"/>
<rect x="151.58" y="40.05" width="1.2" height="12.85" fill="#c898a8"/>
<rect x="152.18" y="29.3" width="4.06" height="10.75" fill="#43b64b"/>
<rect x="151.58" y="29.3" width="1.2" height="10.75" fill="#37a043"/>
<rect x="152.18" y="140.88" width="4.06" height="0.6" fill="rgba(50,50,30,0.45)"/>
<rect x="152.18" y="105.27" width="4.06" height="0.6" fill="rgba(50,50,30,0.45)"/>
<rect x="152.18" y="86.73" width="4.06" height="0.6" fill="rgba(50,50,30,0.45)"/>
<rect x="152.18" y="52.6" width="4.06" height="0.6" fill="rgba(50,50,30,0.45)"/>
<rect x="152.18" y="39.75" width="4.06" height="0.6" fill="rgba(50,50,30,0.45)"/>
<rect x="152.18" y="29" width="4.06" height="0.6" fill="rgba(50,50,30,0.45)"/>
<rect x="156.24" y="142.66" width="4.06" height="97.34" fill="#f1e83e"/>
<rect x="155.64" y="142.66" width="1.2" height="97.34" fill="#aaa426"/>
<rect x="156.24" y="116.53" width="4.06" height="26.13" fill="#b2dae8"/>
<rect x="155.64" y="116.53" width="1.2" height="26.13" fill="#73999f"/>
<rect x="156.24" y="98.83" width="4.06" height="17.7" fill="#f3ad2e"/>
<rect x="155.64" y="98.83" width="1.2" height="17.7" fill="#bf8a35"/>
<rect x="156.24" y="67.86" width="4.06" height="30.97" fill="#d9d9db"/>
<rect x="155.64" y="67.86" width="1.2" height="30.97" fill="#9a9a9c"/>
<rect x="156.24" y="52.48" width="4.06" height="15.38" fill="#f1b8c8"/>
<rect x="155.64" y="52.48" width="1.2" height="15.38" fill="#c898a8"/>
<rect x="156.24" y="29.3" width="4.06" height="23.18" fill="#43b64b"/>
<rect x="155.64" y="29.3" width="1.2" height="23.18" fill="#37a043"/>
<rect x="156.24" y="142.36" width="4.06" height="0.6" fill="rgba(50,50,30,0.45)"/>
<rect x="156.24" y="116.23" width="4.06" height="0.6" fill="rgba(50,50,30,0.45)"/>
<rect x="156.24" y="98.53" width="4.06" height="0.6" fill="rgba(50,50,30,0.45)"/>
<rect x="156.24" y="67.56" width="4.06" height="0.6" fill="rgba(50,50,30,0.45)"/>
<rect x="156.24" y="52.18" width="4.06" height="0.6" fill="rgba(50,50,30,0.45)"/>
<rect x="156.24" y="29" width="4.06" height="0.6" fill="rgba(50,50,30,0.45)"/>
<rect x="160.3" y="144.97" width="4.06" height="95.03" fill="#f1e83e"/>
<rect x="159.7" y="144.97" width="1.2" height="95.03" fill="#aaa426"/>
<rect x="160.3" y="116.32" width="4.06" height="28.66" fill="#b2dae8"/>
<rect x="159.7" y="116.32" width="1.2" height="28.66" fill="#73999f"/>
<rect x="160.3" y="90.82" width="4.06" height="25.49" fill="#f3ad2e"/>
<rect x="159.7" y="90.82" width="1.2" height="25.49" fill="#bf8a35"/>
<rect x="160.3" y="64.07" width="4.06" height="26.76" fill="#d9d9db"/>
<rect x="159.7" y="64.07" width="1.2" height="26.76" fill="#9a9a9c"/>
<rect x="160.3" y="51.84" width="4.06" height="12.22" fill="#f1b8c8"/>
<rect x="159.7" y="51.84" width="1.2" height="12.22" fill="#c898a8"/>
<rect x="160.3" y="29.3" width="4.06" height="22.54" fill="#43b64b"/>
<rect x="159.7" y="29.3" width="1.2" height="22.54" fill="#37a043"/>
<rect x="160.3" y="144.67" width="4.06" height="0.6" fill="rgba(50,50,30,0.45)"/>
<rect x="160.3" y="116.02" width="4.06" height="0.6" fill="rgba(50,50,30,0.45)"/>
<rect x="160.3" y="90.52" width="4.06" height="0.6" fill="rgba(50,50,30,0.45)"/>
<rect x="160.3" y="63.77" width="4.06" height="0.6" fill="rgba(50,50,30,0.45)"/>
<rect x="160.3" y="51.54" width="4.06" height="0.6" fill="rgba(50,50,30,0.45)"/>
<rect x="160.3" y="29" width="4.06" height="0.6" fill="rgba(50,50,30,0.45)"/>
<rect x="164.36" y="147.08" width="4.06" height="92.92" fill="#f1e83e"/>
<rect x="163.76" y="147.08" width="1.2" height="92.92" fill="#aaa426"/>
<rect x="164.36" y="118.85" width="4.06" height="28.23" fill="#b2dae8"/>
<rect x="163.76" y="118.85" width="1.2" height="28.23" fill="#73999f"/>
<rect x="164.36" y="97.36" width="4.06" height="21.49" fill="#f3ad2e"/>
<rect x="163.76" y="97.36" width="1.2" height="21.49" fill="#bf8a35"/>
<rect x="164.36" y="70.39" width="4.06" height="26.97" fill="#d9d9db"/>
<rect x="163.76" y="70.39" width="1.2" height="26.97" fill="#9a9a9c"/>
<rect x="164.36" y="50.79" width="4.06" height="19.6" fill="#f1b8c8"/>
<rect x="163.76" y="50.79" width="1.2" height="19.6" fill="#c898a8"/>
<rect x="164.36" y="29.3" width="4.06" height="21.49" fill="#43b64b"/>
<rect x="163.76" y="29.3" width="1.2" height="21.49" fill="#37a043"/>
<rect x="164.36" y="146.78" width="4.06" height="0.6" fill="rgba(50,50,30,0.45)"/>
<rect x="164.36" y="118.55" width="4.06" height="0.6" fill="rgba(50,50,30,0.45)"/>
<rect x="164.36" y="97.06" width="4.06" height="0.6" fill="rgba(50,50,30,0.45)"/>
<rect x="164.36" y="70.09" width="4.06" height="0.6" fill="rgba(50,50,30,0.45)"/>
<rect x="164.36" y="50.49" width="4.06" height="0.6" fill="rgba(50,50,30,0.45)"/>
<rect x="164.36" y="29" width="4.06" height="0.6" fill="rgba(50,50,30,0.45)"/>
<rect x="168.43" y="148.35" width="4.06" height="91.65" fill="#f1e83e"/>
<rect x="167.83" y="148.35" width="1.2" height="91.65" fill="#aaa426"/>
<rect x="168.43" y="121.17" width="4.06" height="27.18" fill="#b2dae8"/>
<rect x="167.83" y="121.17" width="1.2" height="27.18" fill="#73999f"/>
<rect x="168.43" y="94.62" width="4.06" height="26.55" fill="#f3ad2e"/>
<rect x="167.83" y="94.62" width="1.2" height="26.55" fill="#bf8a35"/>
<rect x="168.43" y="60.06" width="4.06" height="34.55" fill="#d9d9db"/>
<rect x="167.83" y="60.06" width="1.2" height="34.55" fill="#9a9a9c"/>
<rect x="168.43" y="48.9" width="4.06" height="11.17" fill="#f1b8c8"/>
<rect x="167.83" y="48.9" width="1.2" height="11.17" fill="#c898a8"/>
<rect x="168.43" y="29.3" width="4.06" height="19.6" fill="#43b64b"/>
<rect x="167.83" y="29.3" width="1.2" height="19.6" fill="#37a043"/>
<rect x="168.43" y="148.05" width="4.06" height="0.6" fill="rgba(50,50,30,0.45)"/>
<rect x="168.43" y="120.87" width="4.06" height="0.6" fill="rgba(50,50,30,0.45)"/>
<rect x="168.43" y="94.32" width="4.06" height="0.6" fill="rgba(50,50,30,0.45)"/>
<rect x="168.43" y="59.76" width="4.06" height="0.6" fill="rgba(50,50,30,0.45)"/>
<rect x="168.43" y="48.6" width="4.06" height="0.6" fill="rgba(50,50,30,0.45)"/>
<rect x="168.43" y="29" width="4.06" height="0.6" fill="rgba(50,50,30,0.45)"/>
<rect x="172.49" y="148.98" width="4.06" height="91.02" fill="#f1e83e"/>
<rect x="171.89" y="148.98" width="1.2" height="91.02" fill="#aaa426"/>
<rect x="172.49" y="120.11" width="4.06" height="28.87" fill="#b2dae8"/>
<rect x="171.89" y="120.11" width="1.2" height="28.87" fill="#73999f"/>
<rect x="172.49" y="95.25" width="4.06" height="24.86" fill="#f3ad2e"/>
<rect x="171.89" y="95.25" width="1.2" height="24.86" fill="#bf8a35"/>
<rect x="172.49" y="58.8" width="4.06" height="36.45" fill="#d9d9db"/>
<rect x="171.89" y="58.8" width="1.2" height="36.45" fill="#9a9a9c"/>
<rect x="172.49" y="39.2" width="4.06" height="19.6" fill="#f1b8c8"/>
<rect x="171.89" y="39.2" width="1.2" height="19.6" fill="#c898a8"/>
<rect x="172.49" y="29.3" width="4.06" height="9.9" fill="#43b64b"/>
<rect x="171.89" y="29.3" width="1.2" height="9.9" fill="#37a043"/>
<rect x="172.49" y="148.68" width="4.06" height="0.6" fill="rgba(50,50,30,0.45)"/>
<rect x="172.49" y="119.81" width="4.06" height="0.6" fill="rgba(50,50,30,0.45)"/>
<rect x="172.49" y="94.95" width="4.06" height="0.6" fill="rgba(50,50,30,0.45)"/>
<rect x="172.49" y="58.5" width="4.06" height="0.6" fill="rgba(50,50,30,0.45)"/>
<rect x="172.49" y="38.9" width="4.06" height="0.6" fill="rgba(50,50,30,0.45)"/>
<rect x="172.49" y="29" width="4.06" height="0.6" fill="rgba(50,50,30,0.45)"/>
<rect x="176.55" y="151.3" width="4.06" height="88.7" fill="#f1e83e"/>
<rect x="175.95" y="151.3" width="1.2" height="88.7" fill="#aaa426"/>
<rect x="176.55" y="108.94" width="4.06" height="42.35" fill="#b2dae8"/>
<rect x="175.95" y="108.94" width="1.2" height="42.35" fill="#73999f"/>
<rect x="176.55" y="67.44" width="4.06" height="41.51" fill="#f3ad2e"/>
<rect x="175.95" y="67.44" width="1.2" height="41.51" fill="#bf8a35"/>
<rect x="176.55" y="51.21" width="4.06" height="16.22" fill="#d9d9db"/>
<rect x="175.95" y="51.21" width="1.2" height="16.22" fill="#9a9a9c"/>
<rect x="176.55" y="38.99" width="4.06" height="12.22" fill="#f1b8c8"/>
<rect x="175.95" y="38.99" width="1.2" height="12.22" fill="#c898a8"/>
<rect x="176.55" y="29.3" width="4.06" height="9.69" fill="#43b64b"/>
<rect x="175.95" y="29.3" width="1.2" height="9.69" fill="#37a043"/>
<rect x="176.55" y="151" width="4.06" height="0.6" fill="rgba(50,50,30,0.45)"/>
<rect x="176.55" y="108.64" width="4.06" height="0.6" fill="rgba(50,50,30,0.45)"/>
<rect x="176.55" y="67.14" width="4.06" height="0.6" fill="rgba(50,50,30,0.45)"/>
<rect x="176.55" y="50.91" width="4.06" height="0.6" fill="rgba(50,50,30,0.45)"/>
<rect x="176.55" y="38.69" width="4.06" height="0.6" fill="rgba(50,50,30,0.45)"/>
<rect x="176.55" y="29" width="4.06" height="0.6" fill="rgba(50,50,30,0.45)"/>
<rect x="180.61" y="152.14" width="4.06" height="87.86" fill="#f1e83e"/>
<rect x="180.01" y="152.14" width="1.2" height="87.86" fill="#aaa426"/>
<rect x="180.61" y="123.48" width="4.06" height="28.66" fill="#b2dae8"/>
<rect x="180.01" y="123.48" width="1.2" height="28.66" fill="#73999f"/>
<rect x="180.61" y="97.15" width="4.06" height="26.34" fill="#f3ad2e"/>
<rect x="180.01" y="97.15" width="1.2" height="26.34" fill="#bf8a35"/>
<rect x="180.61" y="68.28" width="4.06" height="28.87" fill="#d9d9db"/>
<rect x="180.01" y="68.28" width="1.2" height="28.87" fill="#9a9a9c"/>
<rect x="180.61" y="50.79" width="4.06" height="17.49" fill="#f1b8c8"/>
<rect x="180.01" y="50.79" width="1.2" height="17.49" fill="#c898a8"/>
<rect x="180.61" y="29.3" width="4.06" height="21.49" fill="#43b64b"/>
<rect x="180.01" y="29.3" width="1.2" height="21.49" fill="#37a043"/>
<rect x="180.61" y="151.84" width="4.06" height="0.6" fill="rgba(50,50,30,0.45)"/>
<rect x="180.61" y="123.18" width="4.06" height="0.6" fill="rgba(50,50,30,0.45)"/>
<rect x="180.61" y="96.85" width="4.06" height="0.6" fill="rgba(50,50,30,0.45)"/>
<rect x="180.61" y="67.98" width="4.06" height="0.6" fill="rgba(50,50,30,0.45)"/>
<rect x="180.61" y="50.49" width="4.06" height="0.6" fill="rgba(50,50,30,0.45)"/>
<rect x="180.61" y="29" width="4.06" height="0.6" fill="rgba(50,50,30,0.45)"/>
<rect x="184.68" y="156.14" width="4.06" height="83.86" fill="#f1e83e"/>
<rect x="184.08" y="156.14" width="1.2" height="83.86" fill="#aaa426"/>
<rect x="184.68" y="129.38" width="4.06" height="26.76" fill="#b2dae8"/>
<rect x="184.08" y="129.38" width="1.2" height="26.76" fill="#73999f"/>
<rect x="184.68" y="110.84" width="4.06" height="18.54" fill="#f3ad2e"/>
<rect x="184.08" y="110.84" width="1.2" height="18.54" fill="#bf8a35"/>
<rect x="184.68" y="55.22" width="4.06" height="55.62" fill="#d9d9db"/>
<rect x="184.08" y="55.22" width="1.2" height="55.62" fill="#9a9a9c"/>
<rect x="184.68" y="45.52" width="4.06" height="9.69" fill="#f1b8c8"/>
<rect x="184.08" y="45.52" width="1.2" height="9.69" fill="#c898a8"/>
<rect x="184.68" y="29.3" width="4.06" height="16.22" fill="#43b64b"/>
<rect x="184.08" y="29.3" width="1.2" height="16.22" fill="#37a043"/>
<rect x="184.68" y="155.84" width="4.06" height="0.6" fill="rgba(50,50,30,0.45)"/>
<rect x="184.68" y="129.08" width="4.06" height="0.6" fill="rgba(50,50,30,0.45)"/>
<rect x="184.68" y="110.54" width="4.06" height="0.6" fill="rgba(50,50,30,0.45)"/>
<rect x="184.68" y="54.92" width="4.06" height="0.6" fill="rgba(50,50,30,0.45)"/>
<rect x="184.68" y="45.22" width="4.06" height="0.6" fill="rgba(50,50,30,0.45)"/>
<rect x="184.68" y="29" width="4.06" height="0.6" fill="rgba(50,50,30,0.45)"/>
<rect x="188.74" y="156.35" width="4.06" height="83.65" fill="#f1e83e"/>
<rect x="188.14" y="156.35" width="1.2" height="83.65" fill="#aaa426"/>
<rect x="188.74" y="103.89" width="4.06" height="52.46" fill="#b2dae8"/>
<rect x="188.14" y="103.89" width="1.2" height="52.46" fill="#73999f"/>
<rect x="188.74" y="80.5" width="4.06" height="23.39" fill="#f3ad2e"/>
<rect x="188.14" y="80.5" width="1.2" height="23.39" fill="#bf8a35"/>
<rect x="188.74" y="53.95" width="4.06" height="26.55" fill="#d9d9db"/>
<rect x="188.14" y="53.95" width="1.2" height="26.55" fill="#9a9a9c"/>
<rect x="188.74" y="42.15" width="4.06" height="11.8" fill="#f1b8c8"/>
<rect x="188.14" y="42.15" width="1.2" height="11.8" fill="#c898a8"/>
<rect x="188.74" y="29.3" width="4.06" height="12.85" fill="#43b64b"/>
<rect x="188.14" y="29.3" width="1.2" height="12.85" fill="#37a043"/>
<rect x="188.74" y="156.05" width="4.06" height="0.6" fill="rgba(50,50,30,0.45)"/>
<rect x="188.74" y="103.59" width="4.06" height="0.6" fill="rgba(50,50,30,0.45)"/>
<rect x="188.74" y="80.2" width="4.06" height="0.6" fill="rgba(50,50,30,0.45)"/>
<rect x="188.74" y="53.65" width="4.06" height="0.6" fill="rgba(50,50,30,0.45)"/>
<rect x="188.74" y="41.85" width="4.06" height="0.6" fill="rgba(50,50,30,0.45)"/>
<rect x="188.74" y="29" width="4.06" height="0.6" fill="rgba(50,50,30,0.45)"/>
<rect x="192.8" y="159.72" width="4.06" height="80.28" fill="#f1e83e"/>
<rect x="192.2" y="159.72" width="1.2" height="80.28" fill="#aaa426"/>
<rect x="192.8" y="132.75" width="4.06" height="26.97" fill="#b2dae8"/>
<rect x="192.2" y="132.75" width="1.2" height="26.97" fill="#73999f"/>
<rect x="192.8" y="102.2" width="4.06" height="30.55" fill="#f3ad2e"/>
<rect x="192.2" y="102.2" width="1.2" height="30.55" fill="#bf8a35"/>
<rect x="192.8" y="65.12" width="4.06" height="37.08" fill="#d9d9db"/>
<rect x="192.2" y="65.12" width="1.2" height="37.08" fill="#9a9a9c"/>
<rect x="192.8" y="45.52" width="4.06" height="19.6" fill="#f1b8c8"/>
<rect x="192.2" y="45.52" width="1.2" height="19.6" fill="#c898a8"/>
<rect x="192.8" y="29.3" width="4.06" height="16.22" fill="#43b64b"/>
<rect x="192.2" y="29.3" width="1.2" height="16.22" fill="#37a043"/>
<rect x="192.8" y="159.42" width="4.06" height="0.6" fill="rgba(50,50,30,0.45)"/>
<rect x="192.8" y="132.45" width="4.06" height="0.6" fill="rgba(50,50,30,0.45)"/>
<rect x="192.8" y="101.9" width="4.06" height="0.6" fill="rgba(50,50,30,0.45)"/>
<rect x="192.8" y="64.82" width="4.06" height="0.6" fill="rgba(50,50,30,0.45)"/>
<rect x="192.8" y="45.22" width="4.06" height="0.6" fill="rgba(50,50,30,0.45)"/>
<rect x="192.8" y="29" width="4.06" height="0.6" fill="rgba(50,50,30,0.45)"/>
<rect x="196.86" y="160.78" width="4.06" height="79.22" fill="#f1e83e"/>
<rect x="196.26" y="160.78" width="1.2" height="79.22" fill="#aaa426"/>
<rect x="196.86" y="122.64" width="4.06" height="38.14" fill="#b2dae8"/>
<rect x="196.26" y="122.64" width="1.2" height="38.14" fill="#73999f"/>
<rect x="196.86" y="96.72" width="4.06" height="25.92" fill="#f3ad2e"/>
<rect x="196.26" y="96.72" width="1.2" height="25.92" fill="#bf8a35"/>
<rect x="196.86" y="48.05" width="4.06" height="48.67" fill="#d9d9db"/>
<rect x="196.26" y="48.05" width="1.2" height="48.67" fill="#9a9a9c"/>
<rect x="196.86" y="40.05" width="4.06" height="8.01" fill="#f1b8c8"/>
<rect x="196.26" y="40.05" width="1.2" height="8.01" fill="#c898a8"/>
<rect x="196.86" y="29.3" width="4.06" height="10.75" fill="#43b64b"/>
<rect x="196.26" y="29.3" width="1.2" height="10.75" fill="#37a043"/>
<rect x="196.86" y="160.48" width="4.06" height="0.6" fill="rgba(50,50,30,0.45)"/>
<rect x="196.86" y="122.34" width="4.06" height="0.6" fill="rgba(50,50,30,0.45)"/>
<rect x="196.86" y="96.42" width="4.06" height="0.6" fill="rgba(50,50,30,0.45)"/>
<rect x="196.86" y="47.75" width="4.06" height="0.6" fill="rgba(50,50,30,0.45)"/>
<rect x="196.86" y="39.75" width="4.06" height="0.6" fill="rgba(50,50,30,0.45)"/>
<rect x="196.86" y="29" width="4.06" height="0.6" fill="rgba(50,50,30,0.45)"/>
<rect x="200.33" y="160.78" width="0.6" height="79.22" fill="#aaa426"/>
<rect x="200.33" y="122.64" width="0.6" height="38.14" fill="#73999f"/>
<rect x="200.33" y="96.72" width="0.6" height="25.92" fill="#bf8a35"/>
<rect x="200.33" y="48.05" width="0.6" height="48.67" fill="#9a9a9c"/>
<rect x="200.33" y="40.05" width="0.6" height="8.01" fill="#c898a8"/>
<rect x="200.33" y="29.3" width="0.6" height="10.75" fill="#37a043"/>
<rect x="30.3" y="239.7" width="170.62" height="0.6" fill="rgba(50,50,30,0.45)"/>
</g>
<line x1="23.6" y1="29.3" x2="23.6" y2="240" stroke="#d6d6d6" stroke-width="1.6"/>
<line x1="21.3" y1="240" x2="23.6" y2="240" stroke="#cfcfcf" stroke-width="1"/>
<text transform="translate(20.0 240.3) rotate(-90)" font-size="7.4" text-anchor="middle" fill="#222">0</text>
<line x1="21.3" y1="197.86" x2="23.6" y2="197.86" stroke="#cfcfcf" stroke-width="1"/>
<text transform="translate(20.0 198.16) rotate(-90)" font-size="7.4" text-anchor="middle" fill="#222">20</text>
<line x1="21.3" y1="155.72" x2="23.6" y2="155.72" stroke="#cfcfcf" stroke-width="1"/>
<text transform="translate(20.0 156.02) rotate(-90)" font-size="7.4" text-anchor="middle" fill="#222">40</text>
<line x1="21.3" y1="113.58" x2="23.6" y2="113.58" stroke="#cfcfcf" stroke-width="1"/>
<text transform="translate(20.0 113.88) rotate(-90)" font-size="7.4" text-anchor="middle" fill="#222">60</text>
<line x1="21.3" y1="71.44" x2="23.6" y2="71.44" stroke="#cfcfcf" stroke-width="1"/>
<text transform="translate(20.0 71.74) rotate(-90)" font-size="7.4" text-anchor="middle" fill="#222">80</text>
<line x1="21.3" y1="29.3" x2="23.6" y2="29.3" stroke="#cfcfcf" stroke-width="1"/>
<text transform="translate(20.0 29.6) rotate(-90)" font-size="7.4" text-anchor="middle" fill="#222">100</text>
<text transform="translate(6.6 135.1) rotate(-90)" font-size="8.4" text-anchor="middle" fill="#1a1a1a">Mutation type (%)</text>
<text x="115.5" y="258.3" font-size="8" text-anchor="middle" fill="#1a1a1a">Samples</text>
<rect x="214.6" y="208.1" width="29.6" height="32" fill="#fff" stroke="#bcbcbc" stroke-width="0.8"/>
<rect x="218.3" y="211.1" width="3" height="2.8" fill="#c9d96a" stroke="#777" stroke-width="0.3"/>
<text transform="translate(222.6 214.35) scale(0.52)" font-size="10" font-weight="bold" fill="#111" textLength="35.4" lengthAdjust="spacingAndGlyphs">C:G&gt;T:A</text>
<rect x="218.3" y="215.76" width="3" height="2.8" fill="#8fa0b0" stroke="#777" stroke-width="0.3"/>
<text transform="translate(222.6 219.01) scale(0.52)" font-size="10" font-weight="bold" fill="#111" textLength="35.4" lengthAdjust="spacingAndGlyphs">T:A&gt;C:G</text>
<rect x="218.3" y="220.42" width="3" height="2.8" fill="#b09850" stroke="#777" stroke-width="0.3"/>
<text transform="translate(222.6 223.67) scale(0.52)" font-size="10" font-weight="bold" fill="#111" textLength="35.4" lengthAdjust="spacingAndGlyphs">T:A&gt;A:T</text>
<rect x="218.3" y="225.08" width="3" height="2.8" fill="#c8c8d0" stroke="#777" stroke-width="0.3"/>
<text transform="translate(222.6 228.33) scale(0.52)" font-size="10" font-weight="bold" fill="#111" textLength="35.4" lengthAdjust="spacingAndGlyphs">C:G&gt;A:T</text>
<rect x="218.3" y="229.74" width="3" height="2.8" fill="#a8a8a8" stroke="#777" stroke-width="0.3"/>
<text transform="translate(222.6 232.99) scale(0.52)" font-size="10" font-weight="bold" fill="#111" textLength="35.4" lengthAdjust="spacingAndGlyphs">T:A&gt;G:C</text>
<rect x="218.3" y="234.4" width="3" height="2.8" fill="#3f6a48" stroke="#777" stroke-width="0.3"/>
<text transform="translate(222.6 237.65) scale(0.52)" font-size="10" font-weight="bold" fill="#111" textLength="35.4" lengthAdjust="spacingAndGlyphs">C:G&gt;G:C</text>
<line x1="278.2" y1="109.06" x2="503" y2="109.06" stroke="#cddde2" stroke-width="1.2"/>
<rect x="286.5" y="247.36" width="4.95" height="1.04" fill="#2d2d70"/>
<rect x="285.95" y="247.36" width="1.1" height="1.04" fill="#6a70b0"/>
<rect x="286.5" y="245.29" width="4.95" height="2.07" fill="#4885c4"/>
<rect x="285.95" y="245.29" width="1.1" height="2.07" fill="#7aa2d8"/>
<rect x="286.5" y="226.13" width="4.95" height="19.17" fill="#b6dfe5"/>
<rect x="285.95" y="226.13" width="1.1" height="19.17" fill="#6c8a98"/>
<rect x="286.5" y="226.13" width="4.95" height="0.8" fill="#6a8898"/>
<rect x="291.44" y="242.18" width="4.95" height="6.22" fill="#2d2d70"/>
<rect x="290.89" y="242.18" width="1.1" height="6.22" fill="#6a70b0"/>
<rect x="291.44" y="238.56" width="4.95" height="3.63" fill="#4885c4"/>
<rect x="290.89" y="238.56" width="1.1" height="3.63" fill="#7aa2d8"/>
<rect x="291.44" y="213.18" width="4.95" height="25.38" fill="#b6dfe5"/>
<rect x="290.89" y="213.18" width="1.1" height="25.38" fill="#6c8a98"/>
<rect x="291.44" y="213.18" width="4.95" height="0.8" fill="#6a8898"/>
<rect x="296.39" y="228.72" width="4.95" height="19.68" fill="#2d2d70"/>
<rect x="295.84" y="228.72" width="1.1" height="19.68" fill="#6a70b0"/>
<rect x="296.39" y="223.02" width="4.95" height="5.7" fill="#4885c4"/>
<rect x="295.84" y="223.02" width="1.1" height="5.7" fill="#7aa2d8"/>
<rect x="296.39" y="176.92" width="4.95" height="46.1" fill="#b6dfe5"/>
<rect x="295.84" y="176.92" width="1.1" height="46.1" fill="#6c8a98"/>
<rect x="296.39" y="176.92" width="4.95" height="0.8" fill="#6a8898"/>
<rect x="301.33" y="231.31" width="4.95" height="17.09" fill="#2d2d70"/>
<rect x="300.78" y="231.31" width="1.1" height="17.09" fill="#6a70b0"/>
<rect x="301.33" y="225.09" width="4.95" height="6.22" fill="#4885c4"/>
<rect x="300.78" y="225.09" width="1.1" height="6.22" fill="#7aa2d8"/>
<rect x="301.33" y="175.36" width="4.95" height="49.73" fill="#b6dfe5"/>
<rect x="300.78" y="175.36" width="1.1" height="49.73" fill="#6c8a98"/>
<rect x="301.33" y="175.36" width="4.95" height="0.8" fill="#6a8898"/>
<rect x="306.28" y="225.09" width="4.95" height="23.31" fill="#2d2d70"/>
<rect x="305.73" y="225.09" width="1.1" height="23.31" fill="#6a70b0"/>
<rect x="306.28" y="214.73" width="4.95" height="10.36" fill="#4885c4"/>
<rect x="305.73" y="214.73" width="1.1" height="10.36" fill="#7aa2d8"/>
<rect x="306.28" y="165.52" width="4.95" height="49.21" fill="#b6dfe5"/>
<rect x="305.73" y="165.52" width="1.1" height="49.21" fill="#6c8a98"/>
<rect x="306.28" y="165.52" width="4.95" height="0.8" fill="#6a8898"/>
<rect x="311.23" y="217.32" width="4.95" height="31.08" fill="#2d2d70"/>
<rect x="310.68" y="217.32" width="1.1" height="31.08" fill="#6a70b0"/>
<rect x="311.23" y="209.55" width="4.95" height="7.77" fill="#4885c4"/>
<rect x="310.68" y="209.55" width="1.1" height="7.77" fill="#7aa2d8"/>
<rect x="311.23" y="159.82" width="4.95" height="49.73" fill="#b6dfe5"/>
<rect x="310.68" y="159.82" width="1.1" height="49.73" fill="#6c8a98"/>
<rect x="311.23" y="159.82" width="4.95" height="0.8" fill="#6a8898"/>
<rect x="316.17" y="213.69" width="4.95" height="34.71" fill="#2d2d70"/>
<rect x="315.62" y="213.69" width="1.1" height="34.71" fill="#6a70b0"/>
<rect x="316.17" y="204.37" width="4.95" height="9.32" fill="#4885c4"/>
<rect x="315.62" y="204.37" width="1.1" height="9.32" fill="#7aa2d8"/>
<rect x="316.17" y="156.2" width="4.95" height="48.17" fill="#b6dfe5"/>
<rect x="315.62" y="156.2" width="1.1" height="48.17" fill="#6c8a98"/>
<rect x="316.17" y="156.2" width="4.95" height="0.8" fill="#6a8898"/>
<rect x="321.12" y="215.77" width="4.95" height="32.63" fill="#2d2d70"/>
<rect x="320.56" y="215.77" width="1.1" height="32.63" fill="#6a70b0"/>
<rect x="321.12" y="204.37" width="4.95" height="11.4" fill="#4885c4"/>
<rect x="320.56" y="204.37" width="1.1" height="11.4" fill="#7aa2d8"/>
<rect x="321.12" y="151.02" width="4.95" height="53.35" fill="#b6dfe5"/>
<rect x="320.56" y="151.02" width="1.1" height="53.35" fill="#6c8a98"/>
<rect x="321.12" y="151.02" width="4.95" height="0.8" fill="#6a8898"/>
<rect x="326.06" y="206.96" width="4.95" height="41.44" fill="#2d2d70"/>
<rect x="325.51" y="206.96" width="1.1" height="41.44" fill="#6a70b0"/>
<rect x="326.06" y="193.49" width="4.95" height="13.47" fill="#4885c4"/>
<rect x="325.51" y="193.49" width="1.1" height="13.47" fill="#7aa2d8"/>
<rect x="326.06" y="143.76" width="4.95" height="49.73" fill="#b6dfe5"/>
<rect x="325.51" y="143.76" width="1.1" height="49.73" fill="#6c8a98"/>
<rect x="326.06" y="143.76" width="4.95" height="0.8" fill="#6a8898"/>
<rect x="331" y="221.98" width="4.95" height="26.42" fill="#2d2d70"/>
<rect x="330.45" y="221.98" width="1.1" height="26.42" fill="#6a70b0"/>
<rect x="331" y="203.85" width="4.95" height="18.13" fill="#4885c4"/>
<rect x="330.45" y="203.85" width="1.1" height="18.13" fill="#7aa2d8"/>
<rect x="331" y="141.17" width="4.95" height="62.68" fill="#b6dfe5"/>
<rect x="330.45" y="141.17" width="1.1" height="62.68" fill="#6c8a98"/>
<rect x="331" y="141.17" width="4.95" height="0.8" fill="#6a8898"/>
<rect x="335.95" y="209.03" width="4.95" height="39.37" fill="#2d2d70"/>
<rect x="335.4" y="209.03" width="1.1" height="39.37" fill="#6a70b0"/>
<rect x="335.95" y="199.19" width="4.95" height="9.84" fill="#4885c4"/>
<rect x="335.4" y="199.19" width="1.1" height="9.84" fill="#7aa2d8"/>
<rect x="335.95" y="134.44" width="4.95" height="64.75" fill="#b6dfe5"/>
<rect x="335.4" y="134.44" width="1.1" height="64.75" fill="#6c8a98"/>
<rect x="335.95" y="134.44" width="4.95" height="0.8" fill="#6a8898"/>
<rect x="340.89" y="211.62" width="4.95" height="36.78" fill="#2d2d70"/>
<rect x="340.34" y="211.62" width="1.1" height="36.78" fill="#6a70b0"/>
<rect x="340.89" y="197.64" width="4.95" height="13.99" fill="#4885c4"/>
<rect x="340.34" y="197.64" width="1.1" height="13.99" fill="#7aa2d8"/>
<rect x="340.89" y="127.71" width="4.95" height="69.93" fill="#b6dfe5"/>
<rect x="340.34" y="127.71" width="1.1" height="69.93" fill="#6c8a98"/>
<rect x="340.89" y="127.71" width="4.95" height="0.8" fill="#6a8898"/>
<rect x="345.84" y="208" width="4.95" height="40.4" fill="#2d2d70"/>
<rect x="345.29" y="208" width="1.1" height="40.4" fill="#6a70b0"/>
<rect x="345.84" y="191.42" width="4.95" height="16.58" fill="#4885c4"/>
<rect x="345.29" y="191.42" width="1.1" height="16.58" fill="#7aa2d8"/>
<rect x="345.84" y="127.19" width="4.95" height="64.23" fill="#b6dfe5"/>
<rect x="345.29" y="127.19" width="1.1" height="64.23" fill="#6c8a98"/>
<rect x="345.84" y="127.19" width="4.95" height="0.8" fill="#6a8898"/>
<rect x="350.78" y="208" width="4.95" height="40.4" fill="#2d2d70"/>
<rect x="350.23" y="208" width="1.1" height="40.4" fill="#6a70b0"/>
<rect x="350.78" y="191.94" width="4.95" height="16.06" fill="#4885c4"/>
<rect x="350.23" y="191.94" width="1.1" height="16.06" fill="#7aa2d8"/>
<rect x="350.78" y="122.53" width="4.95" height="69.41" fill="#b6dfe5"/>
<rect x="350.23" y="122.53" width="1.1" height="69.41" fill="#6c8a98"/>
<rect x="350.78" y="122.53" width="4.95" height="0.8" fill="#6a8898"/>
<rect x="355.73" y="212.14" width="4.95" height="36.26" fill="#2d2d70"/>
<rect x="355.18" y="212.14" width="1.1" height="36.26" fill="#6a70b0"/>
<rect x="355.73" y="198.15" width="4.95" height="13.99" fill="#4885c4"/>
<rect x="355.18" y="198.15" width="1.1" height="13.99" fill="#7aa2d8"/>
<rect x="355.73" y="121.49" width="4.95" height="76.66" fill="#b6dfe5"/>
<rect x="355.18" y="121.49" width="1.1" height="76.66" fill="#6c8a98"/>
<rect x="355.73" y="121.49" width="4.95" height="0.8" fill="#6a8898"/>
<rect x="360.68" y="212.14" width="4.95" height="36.26" fill="#2d2d70"/>
<rect x="360.12" y="212.14" width="1.1" height="36.26" fill="#6a70b0"/>
<rect x="360.68" y="199.71" width="4.95" height="12.43" fill="#4885c4"/>
<rect x="360.12" y="199.71" width="1.1" height="12.43" fill="#7aa2d8"/>
<rect x="360.68" y="120.45" width="4.95" height="79.25" fill="#b6dfe5"/>
<rect x="360.12" y="120.45" width="1.1" height="79.25" fill="#6c8a98"/>
<rect x="360.68" y="120.45" width="4.95" height="0.8" fill="#6a8898"/>
<rect x="365.62" y="201.26" width="4.95" height="47.14" fill="#2d2d70"/>
<rect x="365.07" y="201.26" width="1.1" height="47.14" fill="#6a70b0"/>
<rect x="365.62" y="179.51" width="4.95" height="21.76" fill="#4885c4"/>
<rect x="365.07" y="179.51" width="1.1" height="21.76" fill="#7aa2d8"/>
<rect x="365.62" y="119.42" width="4.95" height="60.09" fill="#b6dfe5"/>
<rect x="365.07" y="119.42" width="1.1" height="60.09" fill="#6c8a98"/>
<rect x="365.62" y="119.42" width="4.95" height="0.8" fill="#6a8898"/>
<rect x="370.56" y="208" width="4.95" height="40.4" fill="#2d2d70"/>
<rect x="370.01" y="208" width="1.1" height="40.4" fill="#6a70b0"/>
<rect x="370.56" y="192.46" width="4.95" height="15.54" fill="#4885c4"/>
<rect x="370.01" y="192.46" width="1.1" height="15.54" fill="#7aa2d8"/>
<rect x="370.56" y="118.38" width="4.95" height="74.07" fill="#b6dfe5"/>
<rect x="370.01" y="118.38" width="1.1" height="74.07" fill="#6c8a98"/>
<rect x="370.56" y="118.38" width="4.95" height="0.8" fill="#6a8898"/>
<rect x="375.51" y="205.41" width="4.95" height="42.99" fill="#2d2d70"/>
<rect x="374.96" y="205.41" width="1.1" height="42.99" fill="#6a70b0"/>
<rect x="375.51" y="187.79" width="4.95" height="17.61" fill="#4885c4"/>
<rect x="374.96" y="187.79" width="1.1" height="17.61" fill="#7aa2d8"/>
<rect x="375.51" y="117.86" width="4.95" height="69.93" fill="#b6dfe5"/>
<rect x="374.96" y="117.86" width="1.1" height="69.93" fill="#6c8a98"/>
<rect x="375.51" y="117.86" width="4.95" height="0.8" fill="#6a8898"/>
<rect x="380.46" y="198.15" width="4.95" height="50.25" fill="#2d2d70"/>
<rect x="379.91" y="198.15" width="1.1" height="50.25" fill="#6a70b0"/>
<rect x="380.46" y="180.02" width="4.95" height="18.13" fill="#4885c4"/>
<rect x="379.91" y="180.02" width="1.1" height="18.13" fill="#7aa2d8"/>
<rect x="380.46" y="108.54" width="4.95" height="71.48" fill="#b6dfe5"/>
<rect x="379.91" y="108.54" width="1.1" height="71.48" fill="#6c8a98"/>
<rect x="380.46" y="108.54" width="4.95" height="0.8" fill="#6a8898"/>
<rect x="385.4" y="197.64" width="4.95" height="50.76" fill="#2d2d70"/>
<rect x="384.85" y="197.64" width="1.1" height="50.76" fill="#6a70b0"/>
<rect x="385.4" y="178.99" width="4.95" height="18.65" fill="#4885c4"/>
<rect x="384.85" y="178.99" width="1.1" height="18.65" fill="#7aa2d8"/>
<rect x="385.4" y="103.88" width="4.95" height="75.11" fill="#b6dfe5"/>
<rect x="384.85" y="103.88" width="1.1" height="75.11" fill="#6c8a98"/>
<rect x="385.4" y="103.88" width="4.95" height="0.8" fill="#6a8898"/>
<rect x="390.35" y="203.85" width="4.95" height="44.55" fill="#2d2d70"/>
<rect x="389.8" y="203.85" width="1.1" height="44.55" fill="#6a70b0"/>
<rect x="390.35" y="187.28" width="4.95" height="16.58" fill="#4885c4"/>
<rect x="389.8" y="187.28" width="1.1" height="16.58" fill="#7aa2d8"/>
<rect x="390.35" y="99.22" width="4.95" height="88.06" fill="#b6dfe5"/>
<rect x="389.8" y="99.22" width="1.1" height="88.06" fill="#6c8a98"/>
<rect x="390.35" y="99.22" width="4.95" height="0.8" fill="#6a8898"/>
<rect x="395.29" y="200.23" width="4.95" height="48.17" fill="#2d2d70"/>
<rect x="394.74" y="200.23" width="1.1" height="48.17" fill="#6a70b0"/>
<rect x="395.29" y="181.06" width="4.95" height="19.17" fill="#4885c4"/>
<rect x="394.74" y="181.06" width="1.1" height="19.17" fill="#7aa2d8"/>
<rect x="395.29" y="98.18" width="4.95" height="82.88" fill="#b6dfe5"/>
<rect x="394.74" y="98.18" width="1.1" height="82.88" fill="#6c8a98"/>
<rect x="395.29" y="98.18" width="4.95" height="0.8" fill="#6a8898"/>
<rect x="400.24" y="198.67" width="4.95" height="49.73" fill="#2d2d70"/>
<rect x="399.69" y="198.67" width="1.1" height="49.73" fill="#6a70b0"/>
<rect x="400.24" y="177.95" width="4.95" height="20.72" fill="#4885c4"/>
<rect x="399.69" y="177.95" width="1.1" height="20.72" fill="#7aa2d8"/>
<rect x="400.24" y="95.07" width="4.95" height="82.88" fill="#b6dfe5"/>
<rect x="399.69" y="95.07" width="1.1" height="82.88" fill="#6c8a98"/>
<rect x="400.24" y="95.07" width="4.95" height="0.8" fill="#6a8898"/>
<rect x="405.18" y="203.85" width="4.95" height="44.55" fill="#2d2d70"/>
<rect x="404.63" y="203.85" width="1.1" height="44.55" fill="#6a70b0"/>
<rect x="405.18" y="189.35" width="4.95" height="14.5" fill="#4885c4"/>
<rect x="404.63" y="189.35" width="1.1" height="14.5" fill="#7aa2d8"/>
<rect x="405.18" y="94.04" width="4.95" height="95.31" fill="#b6dfe5"/>
<rect x="404.63" y="94.04" width="1.1" height="95.31" fill="#6c8a98"/>
<rect x="405.18" y="94.04" width="4.95" height="0.8" fill="#6a8898"/>
<rect x="410.12" y="197.12" width="4.95" height="51.28" fill="#2d2d70"/>
<rect x="409.57" y="197.12" width="1.1" height="51.28" fill="#6a70b0"/>
<rect x="410.12" y="178.99" width="4.95" height="18.13" fill="#4885c4"/>
<rect x="409.57" y="178.99" width="1.1" height="18.13" fill="#7aa2d8"/>
<rect x="410.12" y="94.04" width="4.95" height="84.95" fill="#b6dfe5"/>
<rect x="409.57" y="94.04" width="1.1" height="84.95" fill="#6c8a98"/>
<rect x="410.12" y="94.04" width="4.95" height="0.8" fill="#6a8898"/>
<rect x="415.07" y="198.15" width="4.95" height="50.25" fill="#2d2d70"/>
<rect x="414.52" y="198.15" width="1.1" height="50.25" fill="#6a70b0"/>
<rect x="415.07" y="180.02" width="4.95" height="18.13" fill="#4885c4"/>
<rect x="414.52" y="180.02" width="1.1" height="18.13" fill="#7aa2d8"/>
<rect x="415.07" y="94.04" width="4.95" height="85.99" fill="#b6dfe5"/>
<rect x="414.52" y="94.04" width="1.1" height="85.99" fill="#6c8a98"/>
<rect x="415.07" y="94.04" width="4.95" height="0.8" fill="#6a8898"/>
<rect x="420.01" y="191.42" width="4.95" height="56.98" fill="#2d2d70"/>
<rect x="419.46" y="191.42" width="1.1" height="56.98" fill="#6a70b0"/>
<rect x="420.01" y="170.7" width="4.95" height="20.72" fill="#4885c4"/>
<rect x="419.46" y="170.7" width="1.1" height="20.72" fill="#7aa2d8"/>
<rect x="420.01" y="91.96" width="4.95" height="78.74" fill="#b6dfe5"/>
<rect x="419.46" y="91.96" width="1.1" height="78.74" fill="#6c8a98"/>
<rect x="420.01" y="91.96" width="4.95" height="0.8" fill="#6a8898"/>
<rect x="424.96" y="192.97" width="4.95" height="55.43" fill="#2d2d70"/>
<rect x="424.41" y="192.97" width="1.1" height="55.43" fill="#6a70b0"/>
<rect x="424.96" y="172.25" width="4.95" height="20.72" fill="#4885c4"/>
<rect x="424.41" y="172.25" width="1.1" height="20.72" fill="#7aa2d8"/>
<rect x="424.96" y="90.93" width="4.95" height="81.33" fill="#b6dfe5"/>
<rect x="424.41" y="90.93" width="1.1" height="81.33" fill="#6c8a98"/>
<rect x="424.96" y="90.93" width="4.95" height="0.8" fill="#6a8898"/>
<rect x="429.9" y="194.53" width="4.95" height="53.87" fill="#2d2d70"/>
<rect x="429.35" y="194.53" width="1.1" height="53.87" fill="#6a70b0"/>
<rect x="429.9" y="173.81" width="4.95" height="20.72" fill="#4885c4"/>
<rect x="429.35" y="173.81" width="1.1" height="20.72" fill="#7aa2d8"/>
<rect x="429.9" y="86.27" width="4.95" height="87.54" fill="#b6dfe5"/>
<rect x="429.35" y="86.27" width="1.1" height="87.54" fill="#6c8a98"/>
<rect x="429.9" y="86.27" width="4.95" height="0.8" fill="#6a8898"/>
<rect x="434.85" y="196.08" width="4.95" height="52.32" fill="#2d2d70"/>
<rect x="434.3" y="196.08" width="1.1" height="52.32" fill="#6a70b0"/>
<rect x="434.85" y="174.33" width="4.95" height="21.76" fill="#4885c4"/>
<rect x="434.3" y="174.33" width="1.1" height="21.76" fill="#7aa2d8"/>
<rect x="434.85" y="85.23" width="4.95" height="89.1" fill="#b6dfe5"/>
<rect x="434.3" y="85.23" width="1.1" height="89.1" fill="#6c8a98"/>
<rect x="434.85" y="85.23" width="4.95" height="0.8" fill="#6a8898"/>
<rect x="439.8" y="192.46" width="4.95" height="55.94" fill="#2d2d70"/>
<rect x="439.25" y="192.46" width="1.1" height="55.94" fill="#6a70b0"/>
<rect x="439.8" y="174.84" width="4.95" height="17.61" fill="#4885c4"/>
<rect x="439.25" y="174.84" width="1.1" height="17.61" fill="#7aa2d8"/>
<rect x="439.8" y="83.16" width="4.95" height="91.69" fill="#b6dfe5"/>
<rect x="439.25" y="83.16" width="1.1" height="91.69" fill="#6c8a98"/>
<rect x="439.8" y="83.16" width="4.95" height="0.8" fill="#6a8898"/>
<rect x="444.74" y="198.15" width="4.95" height="50.25" fill="#2d2d70"/>
<rect x="444.19" y="198.15" width="1.1" height="50.25" fill="#6a70b0"/>
<rect x="444.74" y="173.81" width="4.95" height="24.35" fill="#4885c4"/>
<rect x="444.19" y="173.81" width="1.1" height="24.35" fill="#7aa2d8"/>
<rect x="444.74" y="83.16" width="4.95" height="90.65" fill="#b6dfe5"/>
<rect x="444.19" y="83.16" width="1.1" height="90.65" fill="#6c8a98"/>
<rect x="444.74" y="83.16" width="4.95" height="0.8" fill="#6a8898"/>
<rect x="449.69" y="200.23" width="4.95" height="48.17" fill="#2d2d70"/>
<rect x="449.13" y="200.23" width="1.1" height="48.17" fill="#6a70b0"/>
<rect x="449.69" y="182.61" width="4.95" height="17.61" fill="#4885c4"/>
<rect x="449.13" y="182.61" width="1.1" height="17.61" fill="#7aa2d8"/>
<rect x="449.69" y="78.5" width="4.95" height="104.12" fill="#b6dfe5"/>
<rect x="449.13" y="78.5" width="1.1" height="104.12" fill="#6c8a98"/>
<rect x="449.69" y="78.5" width="4.95" height="0.8" fill="#6a8898"/>
<rect x="454.63" y="188.83" width="4.95" height="59.57" fill="#2d2d70"/>
<rect x="454.08" y="188.83" width="1.1" height="59.57" fill="#6a70b0"/>
<rect x="454.63" y="168.11" width="4.95" height="20.72" fill="#4885c4"/>
<rect x="454.08" y="168.11" width="1.1" height="20.72" fill="#7aa2d8"/>
<rect x="454.63" y="66.06" width="4.95" height="102.05" fill="#b6dfe5"/>
<rect x="454.08" y="66.06" width="1.1" height="102.05" fill="#6c8a98"/>
<rect x="454.63" y="66.06" width="4.95" height="0.8" fill="#6a8898"/>
<rect x="459.58" y="186.76" width="4.95" height="61.64" fill="#2d2d70"/>
<rect x="459.03" y="186.76" width="1.1" height="61.64" fill="#6a70b0"/>
<rect x="459.58" y="161.89" width="4.95" height="24.86" fill="#4885c4"/>
<rect x="459.03" y="161.89" width="1.1" height="24.86" fill="#7aa2d8"/>
<rect x="459.58" y="60.88" width="4.95" height="101.01" fill="#b6dfe5"/>
<rect x="459.03" y="60.88" width="1.1" height="101.01" fill="#6c8a98"/>
<rect x="459.58" y="60.88" width="4.95" height="0.8" fill="#6a8898"/>
<rect x="464.52" y="186.76" width="4.95" height="61.64" fill="#2d2d70"/>
<rect x="463.97" y="186.76" width="1.1" height="61.64" fill="#6a70b0"/>
<rect x="464.52" y="166.04" width="4.95" height="20.72" fill="#4885c4"/>
<rect x="463.97" y="166.04" width="1.1" height="20.72" fill="#7aa2d8"/>
<rect x="464.52" y="56.74" width="4.95" height="109.3" fill="#b6dfe5"/>
<rect x="463.97" y="56.74" width="1.1" height="109.3" fill="#6c8a98"/>
<rect x="464.52" y="56.74" width="4.95" height="0.8" fill="#6a8898"/>
<rect x="469.47" y="186.76" width="4.95" height="61.64" fill="#2d2d70"/>
<rect x="468.92" y="186.76" width="1.1" height="61.64" fill="#6a70b0"/>
<rect x="469.47" y="161.89" width="4.95" height="24.86" fill="#4885c4"/>
<rect x="468.92" y="161.89" width="1.1" height="24.86" fill="#7aa2d8"/>
<rect x="469.47" y="44.31" width="4.95" height="117.59" fill="#b6dfe5"/>
<rect x="468.92" y="44.31" width="1.1" height="117.59" fill="#6c8a98"/>
<rect x="469.47" y="44.31" width="4.95" height="0.8" fill="#6a8898"/>
<rect x="474.41" y="188.31" width="4.95" height="60.09" fill="#2d2d70"/>
<rect x="473.86" y="188.31" width="1.1" height="60.09" fill="#6a70b0"/>
<rect x="474.41" y="154.12" width="4.95" height="34.19" fill="#4885c4"/>
<rect x="473.86" y="154.12" width="1.1" height="34.19" fill="#7aa2d8"/>
<rect x="474.41" y="42.75" width="4.95" height="111.37" fill="#b6dfe5"/>
<rect x="473.86" y="42.75" width="1.1" height="111.37" fill="#6c8a98"/>
<rect x="474.41" y="42.75" width="4.95" height="0.8" fill="#6a8898"/>
<rect x="479.36" y="191.94" width="4.95" height="56.46" fill="#2d2d70"/>
<rect x="478.81" y="191.94" width="1.1" height="56.46" fill="#6a70b0"/>
<rect x="479.36" y="174.33" width="4.95" height="17.61" fill="#4885c4"/>
<rect x="478.81" y="174.33" width="1.1" height="17.61" fill="#7aa2d8"/>
<rect x="479.36" y="38.61" width="4.95" height="135.72" fill="#b6dfe5"/>
<rect x="478.81" y="38.61" width="1.1" height="135.72" fill="#6c8a98"/>
<rect x="479.36" y="38.61" width="4.95" height="0.8" fill="#6a8898"/>
<rect x="484.3" y="175.88" width="4.95" height="72.52" fill="#2d2d70"/>
<rect x="483.75" y="175.88" width="1.1" height="72.52" fill="#6a70b0"/>
<rect x="484.3" y="156.2" width="4.95" height="19.68" fill="#4885c4"/>
<rect x="483.75" y="156.2" width="1.1" height="19.68" fill="#7aa2d8"/>
<rect x="484.3" y="38.09" width="4.95" height="118.1" fill="#b6dfe5"/>
<rect x="483.75" y="38.09" width="1.1" height="118.1" fill="#6c8a98"/>
<rect x="484.3" y="38.09" width="4.95" height="0.8" fill="#6a8898"/>
<rect x="489.25" y="173.29" width="4.95" height="75.11" fill="#2d2d70"/>
<rect x="488.69" y="173.29" width="1.1" height="75.11" fill="#6a70b0"/>
<rect x="489.25" y="152.57" width="4.95" height="20.72" fill="#4885c4"/>
<rect x="488.69" y="152.57" width="1.1" height="20.72" fill="#7aa2d8"/>
<rect x="489.25" y="21.52" width="4.95" height="131.05" fill="#b6dfe5"/>
<rect x="488.69" y="21.52" width="1.1" height="131.05" fill="#6c8a98"/>
<rect x="489.25" y="21.52" width="4.95" height="0.8" fill="#6a8898"/>
<rect x="493.64" y="21.52" width="0.55" height="226.88" fill="#6c8a98"/>
<line x1="278.2" y1="41.2" x2="278.2" y2="248.4" stroke="#d6d6d6" stroke-width="1.6"/>
<line x1="275.5" y1="248.4" x2="278.2" y2="248.4" stroke="#cfcfcf" stroke-width="1"/>
<text transform="translate(273.4 248.9) rotate(-90)" font-size="7.4" text-anchor="middle" fill="#222">0</text>
<line x1="275.5" y1="196.6" x2="278.2" y2="196.6" stroke="#cfcfcf" stroke-width="1"/>
<text transform="translate(273.4 197.1) rotate(-90)" font-size="7.4" text-anchor="middle" fill="#222">100</text>
<line x1="275.5" y1="144.8" x2="278.2" y2="144.8" stroke="#cfcfcf" stroke-width="1"/>
<text transform="translate(273.4 145.3) rotate(-90)" font-size="7.4" text-anchor="middle" fill="#222">200</text>
<line x1="275.5" y1="93" x2="278.2" y2="93" stroke="#cfcfcf" stroke-width="1"/>
<text transform="translate(273.4 93.5) rotate(-90)" font-size="7.4" text-anchor="middle" fill="#222">300</text>
<line x1="275.5" y1="41.2" x2="278.2" y2="41.2" stroke="#cfcfcf" stroke-width="1"/>
<text transform="translate(273.4 41.7) rotate(-90)" font-size="7.4" text-anchor="middle" fill="#222">400</text>
<text transform="translate(259.5 130.9) rotate(-90)" font-size="8.2" text-anchor="middle" fill="#1a1a1a">Number of SNV</text>
<text x="390.3" y="265.6" font-size="8" text-anchor="middle" fill="#1a1a1a">Samples</text>
<line x1="278.2" y1="187.79" x2="502.2" y2="187.79" stroke="#4a7aaa" stroke-width="1.1"/>
<line x1="278.2" y1="203.85" x2="502.2" y2="203.85" stroke="#2d2d70" stroke-width="1.1"/>
<line x1="278.2" y1="187.79" x2="295.84" y2="187.79" stroke="#5f7080" stroke-width="1.1"/>
<line x1="278.2" y1="203.85" x2="295.84" y2="203.85" stroke="#454b5e" stroke-width="1.1"/>
<line x1="494.19" y1="187.79" x2="502.2" y2="187.79" stroke="#74808c" stroke-width="1.0"/>
<line x1="494.19" y1="203.85" x2="502.2" y2="203.85" stroke="#5c6070" stroke-width="1.0"/>
<text x="505.3" y="112.66" font-size="9" font-weight="bold" fill="#111">269</text>
<text x="505.6" y="190.79" font-size="9" font-weight="bold" fill="#111">117</text>
<text x="505.2" y="207.15" font-size="9" font-weight="bold" fill="#111">86</text>
<text x="492.3" y="5.4" font-size="6.4" font-weight="bold" text-anchor="middle" fill="#a4bcc8">438</text>
<text x="492.3" y="12.5" font-size="6.4" font-weight="bold" text-anchor="middle" fill="#3c6ea6">40</text>
<text x="492.5" y="19.8" font-size="6.4" font-weight="bold" text-anchor="middle" fill="#2a2a70">145</text>
<text x="290.0" y="210.9" font-size="6.4" font-weight="bold" text-anchor="end" fill="#a4bcc8">43</text>
<text x="290.1" y="217.6" font-size="6.4" font-weight="bold" text-anchor="end" fill="#3c6ea6">4</text>
<text x="290.4" y="224.6" font-size="6.4" font-weight="bold" text-anchor="end" fill="#2a2a70">2</text>
</svg>
</body></html>
